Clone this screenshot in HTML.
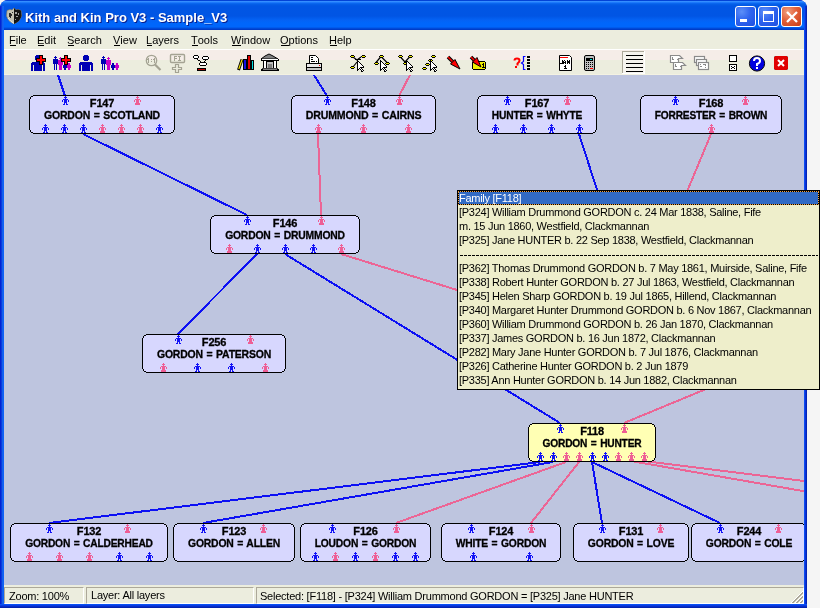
<!DOCTYPE html>
<html><head><meta charset="utf-8">
<style>
*{margin:0;padding:0;box-sizing:border-box}
html,body{width:820px;height:608px;overflow:hidden;background:#f5f5f5;font-family:"Liberation Sans",sans-serif}
.gs{will-change:transform}
.abs{position:absolute}
#win{position:absolute;left:0;top:0;width:807px;height:608px;background:#0831d9;border-radius:8px 8px 0 0;overflow:hidden}
#title{position:absolute;left:0;top:0;width:807px;height:30px;
 background:linear-gradient(#0343d6 0px,#0343d6 1px,#3d95ff 1px,#2a86ff 2px,#0f6cf5 3px,#0560e8 4px,#0156e4 6px,#0155e4 16px,#0462f4 20px,#0066fb 23px,#0066fb 27px,#0050e0 28px,#0035c0 30px)}
#ttext{position:absolute;left:25px;top:10px;color:#fff;font:bold 13px "Liberation Sans",sans-serif;text-shadow:1px 1px 0 #0a1e8c;white-space:nowrap;letter-spacing:0px}
.tb{position:absolute;top:6px;width:21px;height:21px;border:1px solid #fff;border-radius:3px;
 background:radial-gradient(circle at 30% 25%,#5c8ff8 0%,#2f64ef 45%,#1d4fe0 100%)}
#leftb{position:absolute;left:0;top:6px;width:4px;height:602px;background:linear-gradient(90deg,#0019cf,#0831d9 30%,#166aee 70%,#0a5bfe)}
#rightb{position:absolute;left:804px;top:6px;width:3px;height:602px;background:linear-gradient(90deg,#0a5bfe,#0831d9,#001ea0)}
#botb{position:absolute;left:0;top:604px;width:807px;height:4px;background:linear-gradient(#0a5bfe,#0831d9,#001ea0)}
#menu{position:absolute;left:4px;top:30px;width:800px;height:19px;background:#ecedde}
.mi{position:absolute;top:4px;font:11px "Liberation Sans",sans-serif;color:#000;white-space:nowrap}
.mi u{text-decoration:none;position:relative}
.mi u:after{content:"";position:absolute;left:1px;right:0;top:11px;height:1px;background:#000}
#menuline{position:absolute;left:4px;top:49px;width:800px;height:1px;background:#fff}
#toolbar{position:absolute;left:4px;top:50px;width:800px;height:25px;background:linear-gradient(#f5ede8 0px,#f5ede8 10px,#ecedde 10px,#ecedde 24px,#f4f2e2 24px)}
#canvas{position:absolute;left:4px;top:75px;width:800px;height:510px;background:#bec5df;overflow:hidden}
#status{position:absolute;left:4px;top:585px;width:800px;height:19px;background:#ecedde}
.sp{position:absolute;top:2px;height:17px;border-top:1px solid #aca899;border-left:1px solid #aca899;border-right:1px solid #fff;border-bottom:1px solid #fff}
.st{position:absolute;top:5px;font:11px "Liberation Sans",sans-serif;color:#000;white-space:nowrap;letter-spacing:-0.23px}
#popup{position:absolute;left:457px;top:190px;width:363px;height:200px;background:#eeeecb;border:1px solid #000}
#phead{position:absolute;left:0px;top:0px;width:361px;height:14px;background:#000}
#phin{position:absolute;left:0;top:0;width:361px;height:14px;background:#316ac5;background-clip:padding-box;border:1px dotted #f0a040}
.pt{position:absolute;left:1px;height:14px;font:11px "Liberation Sans",sans-serif;color:#000;white-space:nowrap;letter-spacing:-0.27px;line-height:14px}
.dash{position:absolute;left:2px;width:358px;height:1px;background:repeating-linear-gradient(90deg,#000 0,#000 3px,transparent 3px,transparent 4px)}
svg text.bt{font:bold 11px "Liberation Sans",sans-serif;text-anchor:middle;letter-spacing:-0.2px;word-spacing:1px;fill:#000;stroke:#000;stroke-width:0.3px}
</style></head><body>
<div id="win">
<div id="title">
 <svg class="abs" style="left:6px;top:8px" width="16" height="16" viewBox="0 0 16 16">
  <path d="M1 2.5 L4 1.5 L6 2 L8 0 L10 2 L12 1.5 L15 2.5 L15.5 8 Q14.5 13 8 16 Q1.5 13 0.5 8 Z" fill="#c4c2b4" stroke="#8a7a50" stroke-width="0.6"/>
  <path d="M8 0 L10 2 L12 1.5 L15 2.5 L15.5 8 Q14.5 13 8 16 Z" fill="#141414"/>
  <path d="M3 5h2v1h1v2h-1v1h-2zM4 9h1v1h-1zM6 4h1v1h-1z" fill="#2a2a2a"/>
  <path d="M9 4h2v2h-2zM12 5h1v2h-1zM10 8h2v1h-2zM9 11h1v1h-1z" fill="#a0a0a0"/>
  <path d="M2 10q2 3 6 5.5" stroke="#e8e8e0" stroke-width="1" fill="none"/>
 </svg>
 <div id="ttext" class="gs">Kith and Kin Pro V3 - Sample_V3</div>
 <div class="tb" style="left:735px"><div class="abs" style="left:4px;top:12px;width:7px;height:3px;background:#fff"></div></div>
 <div class="tb" style="left:758px"><div class="abs" style="left:4px;top:4px;width:11px;height:11px;border:1px solid #fff;border-top-width:3px"></div></div>
 <div class="tb" style="left:781px;background:radial-gradient(circle at 30% 25%,#f0a080 0%,#e2603a 45%,#c83c14 100%)">
  <svg class="abs" style="left:4px;top:4px" width="12" height="12"><path d="M1 1L11 11M11 1L1 11" stroke="#fff" stroke-width="2.3"/></svg></div>
</div>
<div id="leftb"></div><div id="rightb"></div><div id="botb"></div>
<div id="menu" class="gs">
 <div class="mi" style="left:5px"><u>F</u>ile</div>
 <div class="mi" style="left:33px"><u>E</u>dit</div>
 <div class="mi" style="left:63px"><u>S</u>earch</div>
 <div class="mi" style="left:109px"><u>V</u>iew</div>
 <div class="mi" style="left:142px"><u>L</u>ayers</div>
 <div class="mi" style="left:187px"><u>T</u>ools</div>
 <div class="mi" style="left:227px"><u>W</u>indow</div>
 <div class="mi" style="left:276px"><u>O</u>ptions</div>
 <div class="mi" style="left:325px"><u>H</u>elp</div>
</div>
<div id="menuline"></div>
<div id="toolbar"></div>
<div id="canvas"></div>
<div id="status" class="gs">
 <div class="sp" style="left:0px;width:80px"></div>
 <div class="sp" style="left:82px;width:168px"></div>
 <div class="sp" style="left:252px;width:548px"></div>
 <div class="st" style="left:5px">Zoom: 100%</div>
 <div class="st" style="left:87px;top:4px">Layer: All layers</div>
 <div class="st" style="left:256px">Selected: [F118] - [P324] William Drummond GORDON = [P325] Jane HUNTER</div>
</div>
</div>
<svg class="abs gs" style="left:0;top:0" width="820" height="608" shape-rendering="crispEdges">
<defs><clipPath id="cc"><rect x="4" y="75" width="800" height="510"/></clipPath></defs>
<g clip-path="url(#cc)">
<line x1="58" y1="75" x2="65" y2="96" stroke="#0c10f4" stroke-width="2" shape-rendering="crispEdges"/>
<line x1="314" y1="75" x2="327" y2="96" stroke="#0c10f4" stroke-width="2" shape-rendering="crispEdges"/>
<line x1="410" y1="75" x2="399" y2="96" stroke="#ec6595" stroke-width="2" shape-rendering="crispEdges"/>
<line x1="83" y1="134" x2="247" y2="215" stroke="#0c10f4" stroke-width="2" shape-rendering="crispEdges"/>
<line x1="318" y1="134" x2="321" y2="215" stroke="#ec6595" stroke-width="2" shape-rendering="crispEdges"/>
<line x1="579" y1="134" x2="610" y2="230" stroke="#0c10f4" stroke-width="2" shape-rendering="crispEdges"/>
<line x1="711" y1="134" x2="671" y2="230" stroke="#ec6595" stroke-width="2" shape-rendering="crispEdges"/>
<line x1="257" y1="254" x2="178" y2="334" stroke="#0c10f4" stroke-width="2" shape-rendering="crispEdges"/>
<line x1="285" y1="254" x2="560" y2="423" stroke="#0c10f4" stroke-width="2" shape-rendering="crispEdges"/>
<line x1="341" y1="254" x2="470" y2="294" stroke="#ec6595" stroke-width="2" shape-rendering="crispEdges"/>
<line x1="740" y1="375" x2="624" y2="423" stroke="#ec6595" stroke-width="2" shape-rendering="crispEdges"/>
<line x1="540" y1="462" x2="49" y2="523" stroke="#0c10f4" stroke-width="2" shape-rendering="crispEdges"/>
<line x1="553" y1="462" x2="203" y2="523" stroke="#0c10f4" stroke-width="2" shape-rendering="crispEdges"/>
<line x1="566" y1="462" x2="396" y2="523" stroke="#ec6595" stroke-width="2" shape-rendering="crispEdges"/>
<line x1="579" y1="462" x2="531" y2="523" stroke="#ec6595" stroke-width="2" shape-rendering="crispEdges"/>
<line x1="592" y1="462" x2="602" y2="523" stroke="#0c10f4" stroke-width="2" shape-rendering="crispEdges"/>
<line x1="592" y1="462" x2="720" y2="523" stroke="#0c10f4" stroke-width="2" shape-rendering="crispEdges"/>
<line x1="631" y1="461" x2="820" y2="494" stroke="#ec6595" stroke-width="2" shape-rendering="crispEdges"/>
<line x1="644" y1="461" x2="820" y2="483" stroke="#ec6595" stroke-width="2" shape-rendering="crispEdges"/>
<rect x="33" y="96" width="138" height="1" fill="#d7d7fe"/>
<rect x="31" y="97" width="142" height="2" fill="#d7d7fe"/>
<rect x="30" y="99" width="144" height="31" fill="#d7d7fe"/>
<rect x="31" y="130" width="142" height="2" fill="#d7d7fe"/>
<rect x="33" y="132" width="138" height="1" fill="#d7d7fe"/>
<rect x="33" y="95" width="138" height="1" fill="#000"/>
<rect x="33" y="133" width="138" height="1" fill="#000"/>
<rect x="29" y="99" width="1" height="31" fill="#000"/>
<rect x="174" y="99" width="1" height="31" fill="#000"/>
<rect x="31" y="96" width="2" height="1" fill="#000"/>
<rect x="171" y="96" width="2" height="1" fill="#000"/>
<rect x="31" y="132" width="2" height="1" fill="#000"/>
<rect x="171" y="132" width="2" height="1" fill="#000"/>
<rect x="30" y="97" width="1" height="2" fill="#000"/>
<rect x="173" y="97" width="1" height="2" fill="#000"/>
<rect x="30" y="130" width="1" height="2" fill="#000"/>
<rect x="173" y="130" width="1" height="2" fill="#000"/>
<text x="102.0" y="107" class="bt">F147</text>
<text x="102.0" y="119" class="bt" textLength="116" lengthAdjust="spacingAndGlyphs">GORDON = SCOTLAND</text>
<path transform="translate(62 96)" d="M3 0h1v1h-1zM2 1h3v1h-3zM3 2h1v1h-1zM1 3h5v1h-5zM0 4h1v1h-1zM2 4h3v1h-3zM6 4h1v1h-1zM0 5h1v1h-1zM2 5h3v1h-3zM6 5h1v1h-1zM2 6h3v1h-3zM2 7h1v1h-1zM4 7h1v1h-1zM1 8h2v1h-2zM4 8h2v1h-2z" fill="#1212f5"/>
<path transform="translate(134 96)" d="M3 0h1v1h-1zM2 1h3v1h-3zM3 2h1v1h-1zM1 3h5v1h-5zM0 4h1v1h-1zM2 4h3v1h-3zM6 4h1v1h-1zM0 5h1v1h-1zM2 5h3v1h-3zM6 5h1v1h-1zM2 6h3v1h-3zM1 7h5v1h-5zM1 8h5v1h-5z" fill="#ee5e95"/>
<path transform="translate(42 124)" d="M3 0h1v1h-1zM2 1h3v1h-3zM3 2h1v1h-1zM1 3h5v1h-5zM0 4h1v1h-1zM2 4h3v1h-3zM6 4h1v1h-1zM0 5h1v1h-1zM2 5h3v1h-3zM6 5h1v1h-1zM2 6h3v1h-3zM2 7h1v1h-1zM4 7h1v1h-1zM1 8h2v1h-2zM4 8h2v1h-2z" fill="#1212f5"/>
<path transform="translate(61 124)" d="M3 0h1v1h-1zM2 1h3v1h-3zM3 2h1v1h-1zM1 3h5v1h-5zM0 4h1v1h-1zM2 4h3v1h-3zM6 4h1v1h-1zM0 5h1v1h-1zM2 5h3v1h-3zM6 5h1v1h-1zM2 6h3v1h-3zM2 7h1v1h-1zM4 7h1v1h-1zM1 8h2v1h-2zM4 8h2v1h-2z" fill="#1212f5"/>
<path transform="translate(80 124)" d="M3 0h1v1h-1zM2 1h3v1h-3zM3 2h1v1h-1zM1 3h5v1h-5zM0 4h1v1h-1zM2 4h3v1h-3zM6 4h1v1h-1zM0 5h1v1h-1zM2 5h3v1h-3zM6 5h1v1h-1zM2 6h3v1h-3zM2 7h1v1h-1zM4 7h1v1h-1zM1 8h2v1h-2zM4 8h2v1h-2z" fill="#1212f5"/>
<path transform="translate(99 124)" d="M3 0h1v1h-1zM2 1h3v1h-3zM3 2h1v1h-1zM1 3h5v1h-5zM0 4h1v1h-1zM2 4h3v1h-3zM6 4h1v1h-1zM0 5h1v1h-1zM2 5h3v1h-3zM6 5h1v1h-1zM2 6h3v1h-3zM1 7h5v1h-5zM1 8h5v1h-5z" fill="#ee5e95"/>
<path transform="translate(118 124)" d="M3 0h1v1h-1zM2 1h3v1h-3zM3 2h1v1h-1zM1 3h5v1h-5zM0 4h1v1h-1zM2 4h3v1h-3zM6 4h1v1h-1zM0 5h1v1h-1zM2 5h3v1h-3zM6 5h1v1h-1zM2 6h3v1h-3zM1 7h5v1h-5zM1 8h5v1h-5z" fill="#ee5e95"/>
<path transform="translate(137 124)" d="M3 0h1v1h-1zM2 1h3v1h-3zM3 2h1v1h-1zM1 3h5v1h-5zM0 4h1v1h-1zM2 4h3v1h-3zM6 4h1v1h-1zM0 5h1v1h-1zM2 5h3v1h-3zM6 5h1v1h-1zM2 6h3v1h-3zM1 7h5v1h-5zM1 8h5v1h-5z" fill="#ee5e95"/>
<path transform="translate(156 124)" d="M3 0h1v1h-1zM2 1h3v1h-3zM3 2h1v1h-1zM1 3h5v1h-5zM0 4h1v1h-1zM2 4h3v1h-3zM6 4h1v1h-1zM0 5h1v1h-1zM2 5h3v1h-3zM6 5h1v1h-1zM2 6h3v1h-3zM2 7h1v1h-1zM4 7h1v1h-1zM1 8h2v1h-2zM4 8h2v1h-2z" fill="#1212f5"/>
<rect x="295" y="96" width="137" height="1" fill="#d7d7fe"/>
<rect x="293" y="97" width="141" height="2" fill="#d7d7fe"/>
<rect x="292" y="99" width="143" height="31" fill="#d7d7fe"/>
<rect x="293" y="130" width="141" height="2" fill="#d7d7fe"/>
<rect x="295" y="132" width="137" height="1" fill="#d7d7fe"/>
<rect x="295" y="95" width="137" height="1" fill="#000"/>
<rect x="295" y="133" width="137" height="1" fill="#000"/>
<rect x="291" y="99" width="1" height="31" fill="#000"/>
<rect x="435" y="99" width="1" height="31" fill="#000"/>
<rect x="293" y="96" width="2" height="1" fill="#000"/>
<rect x="432" y="96" width="2" height="1" fill="#000"/>
<rect x="293" y="132" width="2" height="1" fill="#000"/>
<rect x="432" y="132" width="2" height="1" fill="#000"/>
<rect x="292" y="97" width="1" height="2" fill="#000"/>
<rect x="434" y="97" width="1" height="2" fill="#000"/>
<rect x="292" y="130" width="1" height="2" fill="#000"/>
<rect x="434" y="130" width="1" height="2" fill="#000"/>
<text x="363.5" y="107" class="bt">F148</text>
<text x="363.5" y="119" class="bt" textLength="115.5" lengthAdjust="spacingAndGlyphs">DRUMMOND = CAIRNS</text>
<path transform="translate(324 96)" d="M3 0h1v1h-1zM2 1h3v1h-3zM3 2h1v1h-1zM1 3h5v1h-5zM0 4h1v1h-1zM2 4h3v1h-3zM6 4h1v1h-1zM0 5h1v1h-1zM2 5h3v1h-3zM6 5h1v1h-1zM2 6h3v1h-3zM2 7h1v1h-1zM4 7h1v1h-1zM1 8h2v1h-2zM4 8h2v1h-2z" fill="#1212f5"/>
<path transform="translate(396 96)" d="M3 0h1v1h-1zM2 1h3v1h-3zM3 2h1v1h-1zM1 3h5v1h-5zM0 4h1v1h-1zM2 4h3v1h-3zM6 4h1v1h-1zM0 5h1v1h-1zM2 5h3v1h-3zM6 5h1v1h-1zM2 6h3v1h-3zM1 7h5v1h-5zM1 8h5v1h-5z" fill="#ee5e95"/>
<path transform="translate(315 124)" d="M3 0h1v1h-1zM2 1h3v1h-3zM3 2h1v1h-1zM1 3h5v1h-5zM0 4h1v1h-1zM2 4h3v1h-3zM6 4h1v1h-1zM0 5h1v1h-1zM2 5h3v1h-3zM6 5h1v1h-1zM2 6h3v1h-3zM1 7h5v1h-5zM1 8h5v1h-5z" fill="#ee5e95"/>
<path transform="translate(360 124)" d="M3 0h1v1h-1zM2 1h3v1h-3zM3 2h1v1h-1zM1 3h5v1h-5zM0 4h1v1h-1zM2 4h3v1h-3zM6 4h1v1h-1zM0 5h1v1h-1zM2 5h3v1h-3zM6 5h1v1h-1zM2 6h3v1h-3zM1 7h5v1h-5zM1 8h5v1h-5z" fill="#ee5e95"/>
<path transform="translate(405 124)" d="M3 0h1v1h-1zM2 1h3v1h-3zM3 2h1v1h-1zM1 3h5v1h-5zM0 4h1v1h-1zM2 4h3v1h-3zM6 4h1v1h-1zM0 5h1v1h-1zM2 5h3v1h-3zM6 5h1v1h-1zM2 6h3v1h-3zM1 7h5v1h-5zM1 8h5v1h-5z" fill="#ee5e95"/>
<rect x="481" y="96" width="112" height="1" fill="#d7d7fe"/>
<rect x="479" y="97" width="116" height="2" fill="#d7d7fe"/>
<rect x="478" y="99" width="118" height="31" fill="#d7d7fe"/>
<rect x="479" y="130" width="116" height="2" fill="#d7d7fe"/>
<rect x="481" y="132" width="112" height="1" fill="#d7d7fe"/>
<rect x="481" y="95" width="112" height="1" fill="#000"/>
<rect x="481" y="133" width="112" height="1" fill="#000"/>
<rect x="477" y="99" width="1" height="31" fill="#000"/>
<rect x="596" y="99" width="1" height="31" fill="#000"/>
<rect x="479" y="96" width="2" height="1" fill="#000"/>
<rect x="593" y="96" width="2" height="1" fill="#000"/>
<rect x="479" y="132" width="2" height="1" fill="#000"/>
<rect x="593" y="132" width="2" height="1" fill="#000"/>
<rect x="478" y="97" width="1" height="2" fill="#000"/>
<rect x="595" y="97" width="1" height="2" fill="#000"/>
<rect x="478" y="130" width="1" height="2" fill="#000"/>
<rect x="595" y="130" width="1" height="2" fill="#000"/>
<text x="537.0" y="107" class="bt">F167</text>
<text x="537.0" y="119" class="bt" textLength="90.4" lengthAdjust="spacingAndGlyphs">HUNTER = WHYTE</text>
<path transform="translate(504 96)" d="M3 0h1v1h-1zM2 1h3v1h-3zM3 2h1v1h-1zM1 3h5v1h-5zM0 4h1v1h-1zM2 4h3v1h-3zM6 4h1v1h-1zM0 5h1v1h-1zM2 5h3v1h-3zM6 5h1v1h-1zM2 6h3v1h-3zM2 7h1v1h-1zM4 7h1v1h-1zM1 8h2v1h-2zM4 8h2v1h-2z" fill="#1212f5"/>
<path transform="translate(564 96)" d="M3 0h1v1h-1zM2 1h3v1h-3zM3 2h1v1h-1zM1 3h5v1h-5zM0 4h1v1h-1zM2 4h3v1h-3zM6 4h1v1h-1zM0 5h1v1h-1zM2 5h3v1h-3zM6 5h1v1h-1zM2 6h3v1h-3zM1 7h5v1h-5zM1 8h5v1h-5z" fill="#ee5e95"/>
<path transform="translate(492 124)" d="M3 0h1v1h-1zM2 1h3v1h-3zM3 2h1v1h-1zM1 3h5v1h-5zM0 4h1v1h-1zM2 4h3v1h-3zM6 4h1v1h-1zM0 5h1v1h-1zM2 5h3v1h-3zM6 5h1v1h-1zM2 6h3v1h-3zM2 7h1v1h-1zM4 7h1v1h-1zM1 8h2v1h-2zM4 8h2v1h-2z" fill="#1212f5"/>
<path transform="translate(520 124)" d="M3 0h1v1h-1zM2 1h3v1h-3zM3 2h1v1h-1zM1 3h5v1h-5zM0 4h1v1h-1zM2 4h3v1h-3zM6 4h1v1h-1zM0 5h1v1h-1zM2 5h3v1h-3zM6 5h1v1h-1zM2 6h3v1h-3zM2 7h1v1h-1zM4 7h1v1h-1zM1 8h2v1h-2zM4 8h2v1h-2z" fill="#1212f5"/>
<path transform="translate(548 124)" d="M3 0h1v1h-1zM2 1h3v1h-3zM3 2h1v1h-1zM1 3h5v1h-5zM0 4h1v1h-1zM2 4h3v1h-3zM6 4h1v1h-1zM0 5h1v1h-1zM2 5h3v1h-3zM6 5h1v1h-1zM2 6h3v1h-3zM2 7h1v1h-1zM4 7h1v1h-1zM1 8h2v1h-2zM4 8h2v1h-2z" fill="#1212f5"/>
<path transform="translate(576 124)" d="M3 0h1v1h-1zM2 1h3v1h-3zM3 2h1v1h-1zM1 3h5v1h-5zM0 4h1v1h-1zM2 4h3v1h-3zM6 4h1v1h-1zM0 5h1v1h-1zM2 5h3v1h-3zM6 5h1v1h-1zM2 6h3v1h-3zM2 7h1v1h-1zM4 7h1v1h-1zM1 8h2v1h-2zM4 8h2v1h-2z" fill="#1212f5"/>
<rect x="644" y="96" width="134" height="1" fill="#d7d7fe"/>
<rect x="642" y="97" width="138" height="2" fill="#d7d7fe"/>
<rect x="641" y="99" width="140" height="31" fill="#d7d7fe"/>
<rect x="642" y="130" width="138" height="2" fill="#d7d7fe"/>
<rect x="644" y="132" width="134" height="1" fill="#d7d7fe"/>
<rect x="644" y="95" width="134" height="1" fill="#000"/>
<rect x="644" y="133" width="134" height="1" fill="#000"/>
<rect x="640" y="99" width="1" height="31" fill="#000"/>
<rect x="781" y="99" width="1" height="31" fill="#000"/>
<rect x="642" y="96" width="2" height="1" fill="#000"/>
<rect x="778" y="96" width="2" height="1" fill="#000"/>
<rect x="642" y="132" width="2" height="1" fill="#000"/>
<rect x="778" y="132" width="2" height="1" fill="#000"/>
<rect x="641" y="97" width="1" height="2" fill="#000"/>
<rect x="780" y="97" width="1" height="2" fill="#000"/>
<rect x="641" y="130" width="1" height="2" fill="#000"/>
<rect x="780" y="130" width="1" height="2" fill="#000"/>
<text x="711.0" y="107" class="bt">F168</text>
<text x="711.0" y="119" class="bt" textLength="112.5" lengthAdjust="spacingAndGlyphs">FORRESTER = BROWN</text>
<path transform="translate(672 96)" d="M3 0h1v1h-1zM2 1h3v1h-3zM3 2h1v1h-1zM1 3h5v1h-5zM0 4h1v1h-1zM2 4h3v1h-3zM6 4h1v1h-1zM0 5h1v1h-1zM2 5h3v1h-3zM6 5h1v1h-1zM2 6h3v1h-3zM2 7h1v1h-1zM4 7h1v1h-1zM1 8h2v1h-2zM4 8h2v1h-2z" fill="#1212f5"/>
<path transform="translate(742 96)" d="M3 0h1v1h-1zM2 1h3v1h-3zM3 2h1v1h-1zM1 3h5v1h-5zM0 4h1v1h-1zM2 4h3v1h-3zM6 4h1v1h-1zM0 5h1v1h-1zM2 5h3v1h-3zM6 5h1v1h-1zM2 6h3v1h-3zM1 7h5v1h-5zM1 8h5v1h-5z" fill="#ee5e95"/>
<path transform="translate(708 124)" d="M3 0h1v1h-1zM2 1h3v1h-3zM3 2h1v1h-1zM1 3h5v1h-5zM0 4h1v1h-1zM2 4h3v1h-3zM6 4h1v1h-1zM0 5h1v1h-1zM2 5h3v1h-3zM6 5h1v1h-1zM2 6h3v1h-3zM1 7h5v1h-5zM1 8h5v1h-5z" fill="#ee5e95"/>
<rect x="214" y="216" width="142" height="1" fill="#d7d7fe"/>
<rect x="212" y="217" width="146" height="2" fill="#d7d7fe"/>
<rect x="211" y="219" width="148" height="31" fill="#d7d7fe"/>
<rect x="212" y="250" width="146" height="2" fill="#d7d7fe"/>
<rect x="214" y="252" width="142" height="1" fill="#d7d7fe"/>
<rect x="214" y="215" width="142" height="1" fill="#000"/>
<rect x="214" y="253" width="142" height="1" fill="#000"/>
<rect x="210" y="219" width="1" height="31" fill="#000"/>
<rect x="359" y="219" width="1" height="31" fill="#000"/>
<rect x="212" y="216" width="2" height="1" fill="#000"/>
<rect x="356" y="216" width="2" height="1" fill="#000"/>
<rect x="212" y="252" width="2" height="1" fill="#000"/>
<rect x="356" y="252" width="2" height="1" fill="#000"/>
<rect x="211" y="217" width="1" height="2" fill="#000"/>
<rect x="358" y="217" width="1" height="2" fill="#000"/>
<rect x="211" y="250" width="1" height="2" fill="#000"/>
<rect x="358" y="250" width="1" height="2" fill="#000"/>
<text x="285.0" y="227" class="bt">F146</text>
<text x="285.0" y="239" class="bt" textLength="119.7" lengthAdjust="spacingAndGlyphs">GORDON = DRUMMOND</text>
<path transform="translate(244 216)" d="M3 0h1v1h-1zM2 1h3v1h-3zM3 2h1v1h-1zM1 3h5v1h-5zM0 4h1v1h-1zM2 4h3v1h-3zM6 4h1v1h-1zM0 5h1v1h-1zM2 5h3v1h-3zM6 5h1v1h-1zM2 6h3v1h-3zM2 7h1v1h-1zM4 7h1v1h-1zM1 8h2v1h-2zM4 8h2v1h-2z" fill="#1212f5"/>
<path transform="translate(318 216)" d="M3 0h1v1h-1zM2 1h3v1h-3zM3 2h1v1h-1zM1 3h5v1h-5zM0 4h1v1h-1zM2 4h3v1h-3zM6 4h1v1h-1zM0 5h1v1h-1zM2 5h3v1h-3zM6 5h1v1h-1zM2 6h3v1h-3zM1 7h5v1h-5zM1 8h5v1h-5z" fill="#ee5e95"/>
<path transform="translate(226 244)" d="M3 0h1v1h-1zM2 1h3v1h-3zM3 2h1v1h-1zM1 3h5v1h-5zM0 4h1v1h-1zM2 4h3v1h-3zM6 4h1v1h-1zM0 5h1v1h-1zM2 5h3v1h-3zM6 5h1v1h-1zM2 6h3v1h-3zM1 7h5v1h-5zM1 8h5v1h-5z" fill="#ee5e95"/>
<path transform="translate(254 244)" d="M3 0h1v1h-1zM2 1h3v1h-3zM3 2h1v1h-1zM1 3h5v1h-5zM0 4h1v1h-1zM2 4h3v1h-3zM6 4h1v1h-1zM0 5h1v1h-1zM2 5h3v1h-3zM6 5h1v1h-1zM2 6h3v1h-3zM2 7h1v1h-1zM4 7h1v1h-1zM1 8h2v1h-2zM4 8h2v1h-2z" fill="#1212f5"/>
<path transform="translate(282 244)" d="M3 0h1v1h-1zM2 1h3v1h-3zM3 2h1v1h-1zM1 3h5v1h-5zM0 4h1v1h-1zM2 4h3v1h-3zM6 4h1v1h-1zM0 5h1v1h-1zM2 5h3v1h-3zM6 5h1v1h-1zM2 6h3v1h-3zM2 7h1v1h-1zM4 7h1v1h-1zM1 8h2v1h-2zM4 8h2v1h-2z" fill="#1212f5"/>
<path transform="translate(310 244)" d="M3 0h1v1h-1zM2 1h3v1h-3zM3 2h1v1h-1zM1 3h5v1h-5zM0 4h1v1h-1zM2 4h3v1h-3zM6 4h1v1h-1zM0 5h1v1h-1zM2 5h3v1h-3zM6 5h1v1h-1zM2 6h3v1h-3zM2 7h1v1h-1zM4 7h1v1h-1zM1 8h2v1h-2zM4 8h2v1h-2z" fill="#1212f5"/>
<path transform="translate(338 244)" d="M3 0h1v1h-1zM2 1h3v1h-3zM3 2h1v1h-1zM1 3h5v1h-5zM0 4h1v1h-1zM2 4h3v1h-3zM6 4h1v1h-1zM0 5h1v1h-1zM2 5h3v1h-3zM6 5h1v1h-1zM2 6h3v1h-3zM1 7h5v1h-5zM1 8h5v1h-5z" fill="#ee5e95"/>
<rect x="146" y="335" width="136" height="1" fill="#d7d7fe"/>
<rect x="144" y="336" width="140" height="2" fill="#d7d7fe"/>
<rect x="143" y="338" width="142" height="31" fill="#d7d7fe"/>
<rect x="144" y="369" width="140" height="2" fill="#d7d7fe"/>
<rect x="146" y="371" width="136" height="1" fill="#d7d7fe"/>
<rect x="146" y="334" width="136" height="1" fill="#000"/>
<rect x="146" y="372" width="136" height="1" fill="#000"/>
<rect x="142" y="338" width="1" height="31" fill="#000"/>
<rect x="285" y="338" width="1" height="31" fill="#000"/>
<rect x="144" y="335" width="2" height="1" fill="#000"/>
<rect x="282" y="335" width="2" height="1" fill="#000"/>
<rect x="144" y="371" width="2" height="1" fill="#000"/>
<rect x="282" y="371" width="2" height="1" fill="#000"/>
<rect x="143" y="336" width="1" height="2" fill="#000"/>
<rect x="284" y="336" width="1" height="2" fill="#000"/>
<rect x="143" y="369" width="1" height="2" fill="#000"/>
<rect x="284" y="369" width="1" height="2" fill="#000"/>
<text x="214.0" y="346" class="bt">F256</text>
<text x="214.0" y="358" class="bt" textLength="114" lengthAdjust="spacingAndGlyphs">GORDON = PATERSON</text>
<path transform="translate(175 335)" d="M3 0h1v1h-1zM2 1h3v1h-3zM3 2h1v1h-1zM1 3h5v1h-5zM0 4h1v1h-1zM2 4h3v1h-3zM6 4h1v1h-1zM0 5h1v1h-1zM2 5h3v1h-3zM6 5h1v1h-1zM2 6h3v1h-3zM2 7h1v1h-1zM4 7h1v1h-1zM1 8h2v1h-2zM4 8h2v1h-2z" fill="#1212f5"/>
<path transform="translate(247 335)" d="M3 0h1v1h-1zM2 1h3v1h-3zM3 2h1v1h-1zM1 3h5v1h-5zM0 4h1v1h-1zM2 4h3v1h-3zM6 4h1v1h-1zM0 5h1v1h-1zM2 5h3v1h-3zM6 5h1v1h-1zM2 6h3v1h-3zM1 7h5v1h-5zM1 8h5v1h-5z" fill="#ee5e95"/>
<path transform="translate(160 363)" d="M3 0h1v1h-1zM2 1h3v1h-3zM3 2h1v1h-1zM1 3h5v1h-5zM0 4h1v1h-1zM2 4h3v1h-3zM6 4h1v1h-1zM0 5h1v1h-1zM2 5h3v1h-3zM6 5h1v1h-1zM2 6h3v1h-3zM1 7h5v1h-5zM1 8h5v1h-5z" fill="#ee5e95"/>
<path transform="translate(194 363)" d="M3 0h1v1h-1zM2 1h3v1h-3zM3 2h1v1h-1zM1 3h5v1h-5zM0 4h1v1h-1zM2 4h3v1h-3zM6 4h1v1h-1zM0 5h1v1h-1zM2 5h3v1h-3zM6 5h1v1h-1zM2 6h3v1h-3zM2 7h1v1h-1zM4 7h1v1h-1zM1 8h2v1h-2zM4 8h2v1h-2z" fill="#1212f5"/>
<path transform="translate(228 363)" d="M3 0h1v1h-1zM2 1h3v1h-3zM3 2h1v1h-1zM1 3h5v1h-5zM0 4h1v1h-1zM2 4h3v1h-3zM6 4h1v1h-1zM0 5h1v1h-1zM2 5h3v1h-3zM6 5h1v1h-1zM2 6h3v1h-3zM2 7h1v1h-1zM4 7h1v1h-1zM1 8h2v1h-2zM4 8h2v1h-2z" fill="#1212f5"/>
<path transform="translate(262 363)" d="M3 0h1v1h-1zM2 1h3v1h-3zM3 2h1v1h-1zM1 3h5v1h-5zM0 4h1v1h-1zM2 4h3v1h-3zM6 4h1v1h-1zM0 5h1v1h-1zM2 5h3v1h-3zM6 5h1v1h-1zM2 6h3v1h-3zM1 7h5v1h-5zM1 8h5v1h-5z" fill="#ee5e95"/>
<rect x="532" y="424" width="120" height="1" fill="#ffffb4"/>
<rect x="530" y="425" width="124" height="2" fill="#ffffb4"/>
<rect x="529" y="427" width="126" height="31" fill="#ffffb4"/>
<rect x="530" y="458" width="124" height="2" fill="#ffffb4"/>
<rect x="532" y="460" width="120" height="1" fill="#ffffb4"/>
<rect x="532" y="423" width="120" height="1" fill="#000"/>
<rect x="532" y="461" width="120" height="1" fill="#000"/>
<rect x="528" y="427" width="1" height="31" fill="#000"/>
<rect x="655" y="427" width="1" height="31" fill="#000"/>
<rect x="530" y="424" width="2" height="1" fill="#000"/>
<rect x="652" y="424" width="2" height="1" fill="#000"/>
<rect x="530" y="460" width="2" height="1" fill="#000"/>
<rect x="652" y="460" width="2" height="1" fill="#000"/>
<rect x="529" y="425" width="1" height="2" fill="#000"/>
<rect x="654" y="425" width="1" height="2" fill="#000"/>
<rect x="529" y="458" width="1" height="2" fill="#000"/>
<rect x="654" y="458" width="1" height="2" fill="#000"/>
<text x="592.0" y="435" class="bt">F118</text>
<text x="592.0" y="447" class="bt" textLength="98.8" lengthAdjust="spacingAndGlyphs">GORDON = HUNTER</text>
<path transform="translate(557 424)" d="M3 0h1v1h-1zM2 1h3v1h-3zM3 2h1v1h-1zM1 3h5v1h-5zM0 4h1v1h-1zM2 4h3v1h-3zM6 4h1v1h-1zM0 5h1v1h-1zM2 5h3v1h-3zM6 5h1v1h-1zM2 6h3v1h-3zM2 7h1v1h-1zM4 7h1v1h-1zM1 8h2v1h-2zM4 8h2v1h-2z" fill="#1212f5"/>
<path transform="translate(621 424)" d="M3 0h1v1h-1zM2 1h3v1h-3zM3 2h1v1h-1zM1 3h5v1h-5zM0 4h1v1h-1zM2 4h3v1h-3zM6 4h1v1h-1zM0 5h1v1h-1zM2 5h3v1h-3zM6 5h1v1h-1zM2 6h3v1h-3zM1 7h5v1h-5zM1 8h5v1h-5z" fill="#ee5e95"/>
<path transform="translate(537 452)" d="M3 0h1v1h-1zM2 1h3v1h-3zM3 2h1v1h-1zM1 3h5v1h-5zM0 4h1v1h-1zM2 4h3v1h-3zM6 4h1v1h-1zM0 5h1v1h-1zM2 5h3v1h-3zM6 5h1v1h-1zM2 6h3v1h-3zM2 7h1v1h-1zM4 7h1v1h-1zM1 8h2v1h-2zM4 8h2v1h-2z" fill="#1212f5"/>
<path transform="translate(550 452)" d="M3 0h1v1h-1zM2 1h3v1h-3zM3 2h1v1h-1zM1 3h5v1h-5zM0 4h1v1h-1zM2 4h3v1h-3zM6 4h1v1h-1zM0 5h1v1h-1zM2 5h3v1h-3zM6 5h1v1h-1zM2 6h3v1h-3zM2 7h1v1h-1zM4 7h1v1h-1zM1 8h2v1h-2zM4 8h2v1h-2z" fill="#1212f5"/>
<path transform="translate(563 452)" d="M3 0h1v1h-1zM2 1h3v1h-3zM3 2h1v1h-1zM1 3h5v1h-5zM0 4h1v1h-1zM2 4h3v1h-3zM6 4h1v1h-1zM0 5h1v1h-1zM2 5h3v1h-3zM6 5h1v1h-1zM2 6h3v1h-3zM1 7h5v1h-5zM1 8h5v1h-5z" fill="#ee5e95"/>
<path transform="translate(576 452)" d="M3 0h1v1h-1zM2 1h3v1h-3zM3 2h1v1h-1zM1 3h5v1h-5zM0 4h1v1h-1zM2 4h3v1h-3zM6 4h1v1h-1zM0 5h1v1h-1zM2 5h3v1h-3zM6 5h1v1h-1zM2 6h3v1h-3zM1 7h5v1h-5zM1 8h5v1h-5z" fill="#ee5e95"/>
<path transform="translate(589 452)" d="M3 0h1v1h-1zM2 1h3v1h-3zM3 2h1v1h-1zM1 3h5v1h-5zM0 4h1v1h-1zM2 4h3v1h-3zM6 4h1v1h-1zM0 5h1v1h-1zM2 5h3v1h-3zM6 5h1v1h-1zM2 6h3v1h-3zM2 7h1v1h-1zM4 7h1v1h-1zM1 8h2v1h-2zM4 8h2v1h-2z" fill="#1212f5"/>
<path transform="translate(602 452)" d="M3 0h1v1h-1zM2 1h3v1h-3zM3 2h1v1h-1zM1 3h5v1h-5zM0 4h1v1h-1zM2 4h3v1h-3zM6 4h1v1h-1zM0 5h1v1h-1zM2 5h3v1h-3zM6 5h1v1h-1zM2 6h3v1h-3zM2 7h1v1h-1zM4 7h1v1h-1zM1 8h2v1h-2zM4 8h2v1h-2z" fill="#1212f5"/>
<path transform="translate(615 452)" d="M3 0h1v1h-1zM2 1h3v1h-3zM3 2h1v1h-1zM1 3h5v1h-5zM0 4h1v1h-1zM2 4h3v1h-3zM6 4h1v1h-1zM0 5h1v1h-1zM2 5h3v1h-3zM6 5h1v1h-1zM2 6h3v1h-3zM1 7h5v1h-5zM1 8h5v1h-5z" fill="#ee5e95"/>
<path transform="translate(628 452)" d="M3 0h1v1h-1zM2 1h3v1h-3zM3 2h1v1h-1zM1 3h5v1h-5zM0 4h1v1h-1zM2 4h3v1h-3zM6 4h1v1h-1zM0 5h1v1h-1zM2 5h3v1h-3zM6 5h1v1h-1zM2 6h3v1h-3zM1 7h5v1h-5zM1 8h5v1h-5z" fill="#ee5e95"/>
<path transform="translate(641 452)" d="M3 0h1v1h-1zM2 1h3v1h-3zM3 2h1v1h-1zM1 3h5v1h-5zM0 4h1v1h-1zM2 4h3v1h-3zM6 4h1v1h-1zM0 5h1v1h-1zM2 5h3v1h-3zM6 5h1v1h-1zM2 6h3v1h-3zM1 7h5v1h-5zM1 8h5v1h-5z" fill="#ee5e95"/>
<rect x="14" y="524" width="150" height="1" fill="#d7d7fe"/>
<rect x="12" y="525" width="154" height="2" fill="#d7d7fe"/>
<rect x="11" y="527" width="156" height="31" fill="#d7d7fe"/>
<rect x="12" y="558" width="154" height="2" fill="#d7d7fe"/>
<rect x="14" y="560" width="150" height="1" fill="#d7d7fe"/>
<rect x="14" y="523" width="150" height="1" fill="#000"/>
<rect x="14" y="561" width="150" height="1" fill="#000"/>
<rect x="10" y="527" width="1" height="31" fill="#000"/>
<rect x="167" y="527" width="1" height="31" fill="#000"/>
<rect x="12" y="524" width="2" height="1" fill="#000"/>
<rect x="164" y="524" width="2" height="1" fill="#000"/>
<rect x="12" y="560" width="2" height="1" fill="#000"/>
<rect x="164" y="560" width="2" height="1" fill="#000"/>
<rect x="11" y="525" width="1" height="2" fill="#000"/>
<rect x="166" y="525" width="1" height="2" fill="#000"/>
<rect x="11" y="558" width="1" height="2" fill="#000"/>
<rect x="166" y="558" width="1" height="2" fill="#000"/>
<text x="89.0" y="535" class="bt">F132</text>
<text x="89.0" y="547" class="bt" textLength="127.7" lengthAdjust="spacingAndGlyphs">GORDON = CALDERHEAD</text>
<path transform="translate(46 524)" d="M3 0h1v1h-1zM2 1h3v1h-3zM3 2h1v1h-1zM1 3h5v1h-5zM0 4h1v1h-1zM2 4h3v1h-3zM6 4h1v1h-1zM0 5h1v1h-1zM2 5h3v1h-3zM6 5h1v1h-1zM2 6h3v1h-3zM2 7h1v1h-1zM4 7h1v1h-1zM1 8h2v1h-2zM4 8h2v1h-2z" fill="#1212f5"/>
<path transform="translate(124 524)" d="M3 0h1v1h-1zM2 1h3v1h-3zM3 2h1v1h-1zM1 3h5v1h-5zM0 4h1v1h-1zM2 4h3v1h-3zM6 4h1v1h-1zM0 5h1v1h-1zM2 5h3v1h-3zM6 5h1v1h-1zM2 6h3v1h-3zM1 7h5v1h-5zM1 8h5v1h-5z" fill="#ee5e95"/>
<path transform="translate(26 552)" d="M3 0h1v1h-1zM2 1h3v1h-3zM3 2h1v1h-1zM1 3h5v1h-5zM0 4h1v1h-1zM2 4h3v1h-3zM6 4h1v1h-1zM0 5h1v1h-1zM2 5h3v1h-3zM6 5h1v1h-1zM2 6h3v1h-3zM1 7h5v1h-5zM1 8h5v1h-5z" fill="#ee5e95"/>
<path transform="translate(56 552)" d="M3 0h1v1h-1zM2 1h3v1h-3zM3 2h1v1h-1zM1 3h5v1h-5zM0 4h1v1h-1zM2 4h3v1h-3zM6 4h1v1h-1zM0 5h1v1h-1zM2 5h3v1h-3zM6 5h1v1h-1zM2 6h3v1h-3zM1 7h5v1h-5zM1 8h5v1h-5z" fill="#ee5e95"/>
<path transform="translate(86 552)" d="M3 0h1v1h-1zM2 1h3v1h-3zM3 2h1v1h-1zM1 3h5v1h-5zM0 4h1v1h-1zM2 4h3v1h-3zM6 4h1v1h-1zM0 5h1v1h-1zM2 5h3v1h-3zM6 5h1v1h-1zM2 6h3v1h-3zM1 7h5v1h-5zM1 8h5v1h-5z" fill="#ee5e95"/>
<path transform="translate(116 552)" d="M3 0h1v1h-1zM2 1h3v1h-3zM3 2h1v1h-1zM1 3h5v1h-5zM0 4h1v1h-1zM2 4h3v1h-3zM6 4h1v1h-1zM0 5h1v1h-1zM2 5h3v1h-3zM6 5h1v1h-1zM2 6h3v1h-3zM2 7h1v1h-1zM4 7h1v1h-1zM1 8h2v1h-2zM4 8h2v1h-2z" fill="#1212f5"/>
<path transform="translate(146 552)" d="M3 0h1v1h-1zM2 1h3v1h-3zM3 2h1v1h-1zM1 3h5v1h-5zM0 4h1v1h-1zM2 4h3v1h-3zM6 4h1v1h-1zM0 5h1v1h-1zM2 5h3v1h-3zM6 5h1v1h-1zM2 6h3v1h-3zM2 7h1v1h-1zM4 7h1v1h-1zM1 8h2v1h-2zM4 8h2v1h-2z" fill="#1212f5"/>
<rect x="177" y="524" width="114" height="1" fill="#d7d7fe"/>
<rect x="175" y="525" width="118" height="2" fill="#d7d7fe"/>
<rect x="174" y="527" width="120" height="31" fill="#d7d7fe"/>
<rect x="175" y="558" width="118" height="2" fill="#d7d7fe"/>
<rect x="177" y="560" width="114" height="1" fill="#d7d7fe"/>
<rect x="177" y="523" width="114" height="1" fill="#000"/>
<rect x="177" y="561" width="114" height="1" fill="#000"/>
<rect x="173" y="527" width="1" height="31" fill="#000"/>
<rect x="294" y="527" width="1" height="31" fill="#000"/>
<rect x="175" y="524" width="2" height="1" fill="#000"/>
<rect x="291" y="524" width="2" height="1" fill="#000"/>
<rect x="175" y="560" width="2" height="1" fill="#000"/>
<rect x="291" y="560" width="2" height="1" fill="#000"/>
<rect x="174" y="525" width="1" height="2" fill="#000"/>
<rect x="293" y="525" width="1" height="2" fill="#000"/>
<rect x="174" y="558" width="1" height="2" fill="#000"/>
<rect x="293" y="558" width="1" height="2" fill="#000"/>
<text x="234.0" y="535" class="bt">F123</text>
<text x="234.0" y="547" class="bt" textLength="92" lengthAdjust="spacingAndGlyphs">GORDON = ALLEN</text>
<path transform="translate(200 524)" d="M3 0h1v1h-1zM2 1h3v1h-3zM3 2h1v1h-1zM1 3h5v1h-5zM0 4h1v1h-1zM2 4h3v1h-3zM6 4h1v1h-1zM0 5h1v1h-1zM2 5h3v1h-3zM6 5h1v1h-1zM2 6h3v1h-3zM2 7h1v1h-1zM4 7h1v1h-1zM1 8h2v1h-2zM4 8h2v1h-2z" fill="#1212f5"/>
<path transform="translate(260 524)" d="M3 0h1v1h-1zM2 1h3v1h-3zM3 2h1v1h-1zM1 3h5v1h-5zM0 4h1v1h-1zM2 4h3v1h-3zM6 4h1v1h-1zM0 5h1v1h-1zM2 5h3v1h-3zM6 5h1v1h-1zM2 6h3v1h-3zM1 7h5v1h-5zM1 8h5v1h-5z" fill="#ee5e95"/>
<rect x="304" y="524" width="123" height="1" fill="#d7d7fe"/>
<rect x="302" y="525" width="127" height="2" fill="#d7d7fe"/>
<rect x="301" y="527" width="129" height="31" fill="#d7d7fe"/>
<rect x="302" y="558" width="127" height="2" fill="#d7d7fe"/>
<rect x="304" y="560" width="123" height="1" fill="#d7d7fe"/>
<rect x="304" y="523" width="123" height="1" fill="#000"/>
<rect x="304" y="561" width="123" height="1" fill="#000"/>
<rect x="300" y="527" width="1" height="31" fill="#000"/>
<rect x="430" y="527" width="1" height="31" fill="#000"/>
<rect x="302" y="524" width="2" height="1" fill="#000"/>
<rect x="427" y="524" width="2" height="1" fill="#000"/>
<rect x="302" y="560" width="2" height="1" fill="#000"/>
<rect x="427" y="560" width="2" height="1" fill="#000"/>
<rect x="301" y="525" width="1" height="2" fill="#000"/>
<rect x="429" y="525" width="1" height="2" fill="#000"/>
<rect x="301" y="558" width="1" height="2" fill="#000"/>
<rect x="429" y="558" width="1" height="2" fill="#000"/>
<text x="365.5" y="535" class="bt">F126</text>
<text x="365.5" y="547" class="bt" textLength="101.6" lengthAdjust="spacingAndGlyphs">LOUDON = GORDON</text>
<path transform="translate(329 524)" d="M3 0h1v1h-1zM2 1h3v1h-3zM3 2h1v1h-1zM1 3h5v1h-5zM0 4h1v1h-1zM2 4h3v1h-3zM6 4h1v1h-1zM0 5h1v1h-1zM2 5h3v1h-3zM6 5h1v1h-1zM2 6h3v1h-3zM2 7h1v1h-1zM4 7h1v1h-1zM1 8h2v1h-2zM4 8h2v1h-2z" fill="#1212f5"/>
<path transform="translate(393 524)" d="M3 0h1v1h-1zM2 1h3v1h-3zM3 2h1v1h-1zM1 3h5v1h-5zM0 4h1v1h-1zM2 4h3v1h-3zM6 4h1v1h-1zM0 5h1v1h-1zM2 5h3v1h-3zM6 5h1v1h-1zM2 6h3v1h-3zM1 7h5v1h-5zM1 8h5v1h-5z" fill="#ee5e95"/>
<path transform="translate(312 552)" d="M3 0h1v1h-1zM2 1h3v1h-3zM3 2h1v1h-1zM1 3h5v1h-5zM0 4h1v1h-1zM2 4h3v1h-3zM6 4h1v1h-1zM0 5h1v1h-1zM2 5h3v1h-3zM6 5h1v1h-1zM2 6h3v1h-3zM2 7h1v1h-1zM4 7h1v1h-1zM1 8h2v1h-2zM4 8h2v1h-2z" fill="#1212f5"/>
<path transform="translate(332 552)" d="M3 0h1v1h-1zM2 1h3v1h-3zM3 2h1v1h-1zM1 3h5v1h-5zM0 4h1v1h-1zM2 4h3v1h-3zM6 4h1v1h-1zM0 5h1v1h-1zM2 5h3v1h-3zM6 5h1v1h-1zM2 6h3v1h-3zM1 7h5v1h-5zM1 8h5v1h-5z" fill="#ee5e95"/>
<path transform="translate(352 552)" d="M3 0h1v1h-1zM2 1h3v1h-3zM3 2h1v1h-1zM1 3h5v1h-5zM0 4h1v1h-1zM2 4h3v1h-3zM6 4h1v1h-1zM0 5h1v1h-1zM2 5h3v1h-3zM6 5h1v1h-1zM2 6h3v1h-3zM2 7h1v1h-1zM4 7h1v1h-1zM1 8h2v1h-2zM4 8h2v1h-2z" fill="#1212f5"/>
<path transform="translate(372 552)" d="M3 0h1v1h-1zM2 1h3v1h-3zM3 2h1v1h-1zM1 3h5v1h-5zM0 4h1v1h-1zM2 4h3v1h-3zM6 4h1v1h-1zM0 5h1v1h-1zM2 5h3v1h-3zM6 5h1v1h-1zM2 6h3v1h-3zM1 7h5v1h-5zM1 8h5v1h-5z" fill="#ee5e95"/>
<path transform="translate(392 552)" d="M3 0h1v1h-1zM2 1h3v1h-3zM3 2h1v1h-1zM1 3h5v1h-5zM0 4h1v1h-1zM2 4h3v1h-3zM6 4h1v1h-1zM0 5h1v1h-1zM2 5h3v1h-3zM6 5h1v1h-1zM2 6h3v1h-3zM2 7h1v1h-1zM4 7h1v1h-1zM1 8h2v1h-2zM4 8h2v1h-2z" fill="#1212f5"/>
<path transform="translate(412 552)" d="M3 0h1v1h-1zM2 1h3v1h-3zM3 2h1v1h-1zM1 3h5v1h-5zM0 4h1v1h-1zM2 4h3v1h-3zM6 4h1v1h-1zM0 5h1v1h-1zM2 5h3v1h-3zM6 5h1v1h-1zM2 6h3v1h-3zM2 7h1v1h-1zM4 7h1v1h-1zM1 8h2v1h-2zM4 8h2v1h-2z" fill="#1212f5"/>
<rect x="445" y="524" width="112" height="1" fill="#d7d7fe"/>
<rect x="443" y="525" width="116" height="2" fill="#d7d7fe"/>
<rect x="442" y="527" width="118" height="31" fill="#d7d7fe"/>
<rect x="443" y="558" width="116" height="2" fill="#d7d7fe"/>
<rect x="445" y="560" width="112" height="1" fill="#d7d7fe"/>
<rect x="445" y="523" width="112" height="1" fill="#000"/>
<rect x="445" y="561" width="112" height="1" fill="#000"/>
<rect x="441" y="527" width="1" height="31" fill="#000"/>
<rect x="560" y="527" width="1" height="31" fill="#000"/>
<rect x="443" y="524" width="2" height="1" fill="#000"/>
<rect x="557" y="524" width="2" height="1" fill="#000"/>
<rect x="443" y="560" width="2" height="1" fill="#000"/>
<rect x="557" y="560" width="2" height="1" fill="#000"/>
<rect x="442" y="525" width="1" height="2" fill="#000"/>
<rect x="559" y="525" width="1" height="2" fill="#000"/>
<rect x="442" y="558" width="1" height="2" fill="#000"/>
<rect x="559" y="558" width="1" height="2" fill="#000"/>
<text x="501.0" y="535" class="bt">F124</text>
<text x="501.0" y="547" class="bt" textLength="90.5" lengthAdjust="spacingAndGlyphs">WHITE = GORDON</text>
<path transform="translate(468 524)" d="M3 0h1v1h-1zM2 1h3v1h-3zM3 2h1v1h-1zM1 3h5v1h-5zM0 4h1v1h-1zM2 4h3v1h-3zM6 4h1v1h-1zM0 5h1v1h-1zM2 5h3v1h-3zM6 5h1v1h-1zM2 6h3v1h-3zM2 7h1v1h-1zM4 7h1v1h-1zM1 8h2v1h-2zM4 8h2v1h-2z" fill="#1212f5"/>
<path transform="translate(528 524)" d="M3 0h1v1h-1zM2 1h3v1h-3zM3 2h1v1h-1zM1 3h5v1h-5zM0 4h1v1h-1zM2 4h3v1h-3zM6 4h1v1h-1zM0 5h1v1h-1zM2 5h3v1h-3zM6 5h1v1h-1zM2 6h3v1h-3zM1 7h5v1h-5zM1 8h5v1h-5z" fill="#ee5e95"/>
<path transform="translate(470 552)" d="M3 0h1v1h-1zM2 1h3v1h-3zM3 2h1v1h-1zM1 3h5v1h-5zM0 4h1v1h-1zM2 4h3v1h-3zM6 4h1v1h-1zM0 5h1v1h-1zM2 5h3v1h-3zM6 5h1v1h-1zM2 6h3v1h-3zM2 7h1v1h-1zM4 7h1v1h-1zM1 8h2v1h-2zM4 8h2v1h-2z" fill="#1212f5"/>
<path transform="translate(526 552)" d="M3 0h1v1h-1zM2 1h3v1h-3zM3 2h1v1h-1zM1 3h5v1h-5zM0 4h1v1h-1zM2 4h3v1h-3zM6 4h1v1h-1zM0 5h1v1h-1zM2 5h3v1h-3zM6 5h1v1h-1zM2 6h3v1h-3zM2 7h1v1h-1zM4 7h1v1h-1zM1 8h2v1h-2zM4 8h2v1h-2z" fill="#1212f5"/>
<rect x="577" y="524" width="108" height="1" fill="#d7d7fe"/>
<rect x="575" y="525" width="112" height="2" fill="#d7d7fe"/>
<rect x="574" y="527" width="114" height="31" fill="#d7d7fe"/>
<rect x="575" y="558" width="112" height="2" fill="#d7d7fe"/>
<rect x="577" y="560" width="108" height="1" fill="#d7d7fe"/>
<rect x="577" y="523" width="108" height="1" fill="#000"/>
<rect x="577" y="561" width="108" height="1" fill="#000"/>
<rect x="573" y="527" width="1" height="31" fill="#000"/>
<rect x="688" y="527" width="1" height="31" fill="#000"/>
<rect x="575" y="524" width="2" height="1" fill="#000"/>
<rect x="685" y="524" width="2" height="1" fill="#000"/>
<rect x="575" y="560" width="2" height="1" fill="#000"/>
<rect x="685" y="560" width="2" height="1" fill="#000"/>
<rect x="574" y="525" width="1" height="2" fill="#000"/>
<rect x="687" y="525" width="1" height="2" fill="#000"/>
<rect x="574" y="558" width="1" height="2" fill="#000"/>
<rect x="687" y="558" width="1" height="2" fill="#000"/>
<text x="631.0" y="535" class="bt">F131</text>
<text x="631.0" y="547" class="bt" textLength="86.3" lengthAdjust="spacingAndGlyphs">GORDON = LOVE</text>
<path transform="translate(599 524)" d="M3 0h1v1h-1zM2 1h3v1h-3zM3 2h1v1h-1zM1 3h5v1h-5zM0 4h1v1h-1zM2 4h3v1h-3zM6 4h1v1h-1zM0 5h1v1h-1zM2 5h3v1h-3zM6 5h1v1h-1zM2 6h3v1h-3zM2 7h1v1h-1zM4 7h1v1h-1zM1 8h2v1h-2zM4 8h2v1h-2z" fill="#1212f5"/>
<path transform="translate(657 524)" d="M3 0h1v1h-1zM2 1h3v1h-3zM3 2h1v1h-1zM1 3h5v1h-5zM0 4h1v1h-1zM2 4h3v1h-3zM6 4h1v1h-1zM0 5h1v1h-1zM2 5h3v1h-3zM6 5h1v1h-1zM2 6h3v1h-3zM1 7h5v1h-5zM1 8h5v1h-5z" fill="#ee5e95"/>
<rect x="695" y="524" width="108" height="1" fill="#d7d7fe"/>
<rect x="693" y="525" width="112" height="2" fill="#d7d7fe"/>
<rect x="692" y="527" width="114" height="31" fill="#d7d7fe"/>
<rect x="693" y="558" width="112" height="2" fill="#d7d7fe"/>
<rect x="695" y="560" width="108" height="1" fill="#d7d7fe"/>
<rect x="695" y="523" width="108" height="1" fill="#000"/>
<rect x="695" y="561" width="108" height="1" fill="#000"/>
<rect x="691" y="527" width="1" height="31" fill="#000"/>
<rect x="806" y="527" width="1" height="31" fill="#000"/>
<rect x="693" y="524" width="2" height="1" fill="#000"/>
<rect x="803" y="524" width="2" height="1" fill="#000"/>
<rect x="693" y="560" width="2" height="1" fill="#000"/>
<rect x="803" y="560" width="2" height="1" fill="#000"/>
<rect x="692" y="525" width="1" height="2" fill="#000"/>
<rect x="805" y="525" width="1" height="2" fill="#000"/>
<rect x="692" y="558" width="1" height="2" fill="#000"/>
<rect x="805" y="558" width="1" height="2" fill="#000"/>
<text x="749.0" y="535" class="bt">F244</text>
<text x="749.0" y="547" class="bt" textLength="86.3" lengthAdjust="spacingAndGlyphs">GORDON = COLE</text>
<path transform="translate(717 524)" d="M3 0h1v1h-1zM2 1h3v1h-3zM3 2h1v1h-1zM1 3h5v1h-5zM0 4h1v1h-1zM2 4h3v1h-3zM6 4h1v1h-1zM0 5h1v1h-1zM2 5h3v1h-3zM6 5h1v1h-1zM2 6h3v1h-3zM2 7h1v1h-1zM4 7h1v1h-1zM1 8h2v1h-2zM4 8h2v1h-2z" fill="#1212f5"/>
<path transform="translate(775 524)" d="M3 0h1v1h-1zM2 1h3v1h-3zM3 2h1v1h-1zM1 3h5v1h-5zM0 4h1v1h-1zM2 4h3v1h-3zM6 4h1v1h-1zM0 5h1v1h-1zM2 5h3v1h-3zM6 5h1v1h-1zM2 6h3v1h-3zM1 7h5v1h-5zM1 8h5v1h-5z" fill="#ee5e95"/>
</g>
</svg>
<svg class="abs" style="left:0;top:0" width="820" height="608">
<rect x="36" y="55" width="4" height="6" fill="#0000b4"/>
<rect x="35" y="56" width="6" height="4" fill="#0000b4"/>
<rect x="32" y="62" width="12" height="1" fill="#0000b4"/>
<rect x="31" y="63" width="14" height="2" fill="#0000b4"/>
<rect x="31" y="65" width="2" height="6" fill="#0000b4"/>
<rect x="34" y="65" width="8" height="6" fill="#0000b4"/>
<rect x="43" y="65" width="2" height="6" fill="#0000b4"/>
<rect x="36" y="58" width="10" height="4" fill="#000"/>
<rect x="39" y="55" width="4" height="10" fill="#000"/>
<rect x="37" y="59" width="8" height="2" fill="#ff0000"/>
<rect x="40" y="56" width="2" height="8" fill="#ff0000"/>
<rect x="55" y="56" width="1" height="1" fill="#0000b4"/>
<rect x="54" y="57" width="3" height="1" fill="#0000b4"/>
<rect x="55" y="58" width="1" height="1" fill="#0000b4"/>
<rect x="53" y="59" width="5" height="5" fill="#0000b4"/>
<rect x="54" y="64" width="1" height="6" fill="#0000b4"/>
<rect x="56" y="64" width="1" height="6" fill="#0000b4"/>
<rect x="60" y="57" width="1" height="1" fill="#c800c8"/>
<rect x="59" y="58" width="3" height="1" fill="#c800c8"/>
<rect x="60" y="59" width="1" height="1" fill="#c800c8"/>
<rect x="58" y="60" width="5" height="5" fill="#c800c8"/>
<rect x="59" y="65" width="3" height="5" fill="#c800c8"/>
<rect x="64" y="63" width="2" height="2" fill="#0000b4"/>
<rect x="63" y="65" width="4" height="3" fill="#0000b4"/>
<rect x="64" y="68" width="2" height="2" fill="#0000b4"/>
<rect x="68" y="63" width="2" height="2" fill="#c800c8"/>
<rect x="67" y="65" width="4" height="3" fill="#c800c8"/>
<rect x="68" y="68" width="2" height="2" fill="#c800c8"/>
<rect x="61" y="58" width="10" height="4" fill="#000"/>
<rect x="64" y="55" width="4" height="10" fill="#000"/>
<rect x="62" y="59" width="8" height="2" fill="#ff0000"/>
<rect x="65" y="56" width="2" height="8" fill="#ff0000"/>
<rect x="84" y="55" width="4" height="6" fill="#0000b4"/>
<rect x="83" y="56" width="6" height="4" fill="#0000b4"/>
<rect x="80" y="62" width="12" height="1" fill="#0000b4"/>
<rect x="79" y="63" width="14" height="2" fill="#0000b4"/>
<rect x="79" y="65" width="2" height="6" fill="#0000b4"/>
<rect x="82" y="65" width="8" height="6" fill="#0000b4"/>
<rect x="91" y="65" width="2" height="6" fill="#0000b4"/>
<rect x="103" y="56" width="1" height="1" fill="#0000b4"/>
<rect x="102" y="57" width="3" height="1" fill="#0000b4"/>
<rect x="103" y="58" width="1" height="1" fill="#0000b4"/>
<rect x="101" y="59" width="5" height="5" fill="#0000b4"/>
<rect x="102" y="64" width="1" height="6" fill="#0000b4"/>
<rect x="104" y="64" width="1" height="6" fill="#0000b4"/>
<rect x="108" y="57" width="1" height="1" fill="#c800c8"/>
<rect x="107" y="58" width="3" height="1" fill="#c800c8"/>
<rect x="108" y="59" width="1" height="1" fill="#c800c8"/>
<rect x="106" y="60" width="5" height="5" fill="#c800c8"/>
<rect x="107" y="65" width="3" height="5" fill="#c800c8"/>
<rect x="112" y="63" width="2" height="2" fill="#0000b4"/>
<rect x="111" y="65" width="4" height="3" fill="#0000b4"/>
<rect x="112" y="68" width="2" height="2" fill="#0000b4"/>
<rect x="116" y="63" width="2" height="2" fill="#c800c8"/>
<rect x="115" y="65" width="4" height="3" fill="#c800c8"/>
<rect x="116" y="68" width="2" height="2" fill="#c800c8"/>
<circle cx="151.5" cy="60.5" r="5.2" fill="none" stroke="#a4a393" stroke-width="1.3"/>
<path d="M155 64.5L160.5 70" stroke="#a4a393" stroke-width="2.2"/>
<rect x="148" y="58" width="1" height="5" fill="#a4a393"/>
<rect x="147" y="59" width="1" height="1" fill="#a4a393"/>
<rect x="151" y="59" width="1" height="1" fill="#a4a393"/>
<rect x="151" y="61" width="1" height="1" fill="#a4a393"/>
<rect x="154" y="58" width="1" height="5" fill="#a4a393"/>
<rect x="153" y="59" width="1" height="1" fill="#a4a393"/>
<rect x="170.5" y="54.5" width="14" height="8" rx="1" fill="none" stroke="#a4a393" stroke-width="1.4"/>
<rect x="174" y="56" width="1" height="5" fill="#a4a393"/>
<rect x="175" y="56" width="2" height="1" fill="#a4a393"/>
<rect x="175" y="58" width="2" height="1" fill="#a4a393"/>
<rect x="179" y="56" width="1" height="5" fill="#a4a393"/>
<rect x="178" y="56" width="3" height="1" fill="#a4a393"/>
<rect x="178" y="60" width="3" height="1" fill="#a4a393"/>
<path d="M175.5 64.5h3v3h3v2h-3v3h-3v-3h-3v-2h3z" fill="none" stroke="#a4a393" stroke-width="1.2"/>
<rect x="194" y="55" width="4" height="1" fill="#000"/>
<rect x="194" y="58" width="4" height="1" fill="#000"/>
<rect x="193" y="56" width="1" height="2" fill="#000"/>
<rect x="198" y="56" width="1" height="2" fill="#000"/>
<rect x="194" y="56" width="4" height="2" fill="#fff"/>
<rect x="203" y="56" width="5" height="1" fill="#000"/>
<rect x="203" y="59" width="5" height="1" fill="#000"/>
<rect x="202" y="57" width="1" height="2" fill="#000"/>
<rect x="208" y="57" width="1" height="2" fill="#000"/>
<rect x="203" y="57" width="5" height="2" fill="#fff"/>
<rect x="200" y="62" width="6" height="1" fill="#000"/>
<rect x="200" y="65" width="6" height="1" fill="#000"/>
<rect x="199" y="63" width="1" height="2" fill="#000"/>
<rect x="206" y="63" width="1" height="2" fill="#000"/>
<rect x="200" y="63" width="6" height="2" fill="#fff"/>
<rect x="197" y="59" width="1" height="1" fill="#000"/>
<rect x="198" y="60" width="2" height="1" fill="#000"/>
<rect x="200" y="61" width="1" height="1" fill="#000"/>
<rect x="205" y="60" width="1" height="1" fill="#000"/>
<rect x="204" y="61" width="1" height="1" fill="#000"/>
<rect x="197" y="68" width="9" height="3" fill="#000"/>
<rect x="198" y="69" width="7" height="1" fill="#c00000"/>
<path d="M238.5 70L242 59.5" stroke="#000" stroke-width="3"/><path d="M238.8 69L242 59.8" stroke="#f0e000" stroke-width="1.2"/>
<rect x="243" y="59" width="4" height="11" fill="#000"/>
<rect x="244" y="60" width="2" height="9" fill="#1010e0"/>
<rect x="247" y="55" width="4" height="15" fill="#000"/>
<rect x="248" y="56" width="2" height="13" fill="#e00000"/>
<rect x="251" y="60" width="3" height="10" fill="#000"/>
<rect x="252" y="61" width="1" height="8" fill="#00e0e0"/>
<path d="M261 59L265 56L269 54L273 56L278 59Z" fill="#808080" stroke="#000" stroke-width="1"/>
<rect x="261" y="59" width="18" height="2" fill="#000"/>
<rect x="262" y="59" width="16" height="1" fill="#fff"/>
<rect x="263" y="61" width="14" height="7" fill="#000"/>
<rect x="264" y="61" width="2" height="7" fill="#fff"/>
<rect x="267" y="62" width="6" height="6" fill="#c0c0c0"/>
<rect x="268" y="64" width="4" height="4" fill="#808080"/>
<rect x="274" y="61" width="2" height="7" fill="#fff"/>
<rect x="262" y="68" width="16" height="1" fill="#404040"/>
<rect x="261" y="69" width="18" height="2" fill="#000"/>
<rect x="263" y="69" width="14" height="1" fill="#808080"/>
<path d="M309.5 55.5h6l3 3v5h-9z" fill="#fff" stroke="#000" stroke-width="1"/>
<rect x="311" y="57" width="2" height="1" fill="#000"/>
<rect x="311" y="59" width="2" height="1" fill="#000"/>
<rect x="311" y="61" width="4" height="1" fill="#000"/>
<rect x="316" y="61" width="1" height="1" fill="#000"/>
<rect x="306" y="63" width="16" height="8" fill="#000"/>
<rect x="307" y="64" width="14" height="3" fill="#e8e8e8"/>
<rect x="319" y="65" width="1" height="1" fill="#ff0000"/>
<rect x="307" y="68" width="14" height="2" fill="#c8c8c8"/>
<path d="M353 57L357 60L361 57M353 67L357 62" fill="none" stroke="#000" stroke-width="1.2"/>
<rect x="355" y="59" width="6" height="1" fill="#000"/>
<rect x="351" y="55" width="3" height="1" fill="#000"/>
<rect x="350" y="56" width="5" height="1" fill="#000"/>
<rect x="351" y="57" width="3" height="1" fill="#000"/>
<rect x="351" y="56" width="3" height="1" fill="#f0f000"/>
<rect x="362" y="55" width="3" height="1" fill="#000"/>
<rect x="361" y="56" width="5" height="1" fill="#000"/>
<rect x="362" y="57" width="3" height="1" fill="#000"/>
<rect x="362" y="56" width="3" height="1" fill="#f0f000"/>
<rect x="351" y="66" width="3" height="1" fill="#000"/>
<rect x="350" y="67" width="5" height="1" fill="#000"/>
<rect x="351" y="68" width="3" height="1" fill="#000"/>
<rect x="351" y="67" width="3" height="1" fill="#f0f000"/>
<rect x="357" y="60" width="1" height="1" fill="#000"/>
<rect x="357" y="61" width="1" height="1" fill="#000"/>
<rect x="358" y="61" width="1" height="1" fill="#000"/>
<rect x="357" y="62" width="1" height="1" fill="#000"/>
<rect x="358" y="62" width="1" height="1" fill="#fff"/>
<rect x="359" y="62" width="1" height="1" fill="#000"/>
<rect x="357" y="63" width="1" height="1" fill="#000"/>
<rect x="358" y="63" width="1" height="1" fill="#fff"/>
<rect x="359" y="63" width="1" height="1" fill="#fff"/>
<rect x="360" y="63" width="1" height="1" fill="#000"/>
<rect x="357" y="64" width="1" height="1" fill="#000"/>
<rect x="358" y="64" width="1" height="1" fill="#fff"/>
<rect x="359" y="64" width="1" height="1" fill="#fff"/>
<rect x="360" y="64" width="1" height="1" fill="#fff"/>
<rect x="361" y="64" width="1" height="1" fill="#000"/>
<rect x="357" y="65" width="1" height="1" fill="#000"/>
<rect x="358" y="65" width="1" height="1" fill="#fff"/>
<rect x="359" y="65" width="1" height="1" fill="#fff"/>
<rect x="360" y="65" width="1" height="1" fill="#fff"/>
<rect x="361" y="65" width="1" height="1" fill="#fff"/>
<rect x="362" y="65" width="1" height="1" fill="#000"/>
<rect x="357" y="66" width="1" height="1" fill="#000"/>
<rect x="358" y="66" width="1" height="1" fill="#fff"/>
<rect x="359" y="66" width="1" height="1" fill="#fff"/>
<rect x="360" y="66" width="1" height="1" fill="#fff"/>
<rect x="361" y="66" width="1" height="1" fill="#fff"/>
<rect x="362" y="66" width="1" height="1" fill="#fff"/>
<rect x="363" y="66" width="1" height="1" fill="#000"/>
<rect x="357" y="67" width="1" height="1" fill="#000"/>
<rect x="358" y="67" width="1" height="1" fill="#fff"/>
<rect x="359" y="67" width="1" height="1" fill="#fff"/>
<rect x="360" y="67" width="1" height="1" fill="#000"/>
<rect x="361" y="67" width="1" height="1" fill="#000"/>
<rect x="362" y="67" width="1" height="1" fill="#000"/>
<rect x="363" y="67" width="1" height="1" fill="#000"/>
<rect x="357" y="68" width="1" height="1" fill="#000"/>
<rect x="358" y="68" width="1" height="1" fill="#fff"/>
<rect x="359" y="68" width="1" height="1" fill="#000"/>
<rect x="360" y="68" width="1" height="1" fill="#fff"/>
<rect x="361" y="68" width="1" height="1" fill="#000"/>
<rect x="357" y="69" width="1" height="1" fill="#000"/>
<rect x="358" y="69" width="1" height="1" fill="#000"/>
<rect x="360" y="69" width="1" height="1" fill="#000"/>
<rect x="361" y="69" width="1" height="1" fill="#fff"/>
<rect x="362" y="69" width="1" height="1" fill="#000"/>
<rect x="357" y="70" width="1" height="1" fill="#000"/>
<rect x="361" y="70" width="1" height="1" fill="#000"/>
<rect x="362" y="70" width="1" height="1" fill="#fff"/>
<rect x="363" y="70" width="1" height="1" fill="#000"/>
<rect x="361" y="71" width="1" height="1" fill="#000"/>
<rect x="362" y="71" width="1" height="1" fill="#000"/>
<path d="M376 62.5L381 56.5L387 62.5" fill="none" stroke="#000" stroke-width="1.2"/>
<rect x="380" y="55" width="3" height="1" fill="#000"/>
<rect x="379" y="56" width="5" height="1" fill="#000"/>
<rect x="380" y="57" width="3" height="1" fill="#000"/>
<rect x="380" y="56" width="3" height="1" fill="#f0f000"/>
<rect x="375" y="62" width="3" height="1" fill="#000"/>
<rect x="374" y="63" width="5" height="1" fill="#000"/>
<rect x="375" y="64" width="3" height="1" fill="#000"/>
<rect x="375" y="63" width="3" height="1" fill="#f0f000"/>
<rect x="386" y="62" width="3" height="1" fill="#000"/>
<rect x="385" y="63" width="5" height="1" fill="#000"/>
<rect x="386" y="64" width="3" height="1" fill="#000"/>
<rect x="386" y="63" width="3" height="1" fill="#f0f000"/>
<rect x="380" y="60" width="1" height="1" fill="#000"/>
<rect x="380" y="61" width="1" height="1" fill="#000"/>
<rect x="381" y="61" width="1" height="1" fill="#000"/>
<rect x="380" y="62" width="1" height="1" fill="#000"/>
<rect x="381" y="62" width="1" height="1" fill="#fff"/>
<rect x="382" y="62" width="1" height="1" fill="#000"/>
<rect x="380" y="63" width="1" height="1" fill="#000"/>
<rect x="381" y="63" width="1" height="1" fill="#fff"/>
<rect x="382" y="63" width="1" height="1" fill="#fff"/>
<rect x="383" y="63" width="1" height="1" fill="#000"/>
<rect x="380" y="64" width="1" height="1" fill="#000"/>
<rect x="381" y="64" width="1" height="1" fill="#fff"/>
<rect x="382" y="64" width="1" height="1" fill="#fff"/>
<rect x="383" y="64" width="1" height="1" fill="#fff"/>
<rect x="384" y="64" width="1" height="1" fill="#000"/>
<rect x="380" y="65" width="1" height="1" fill="#000"/>
<rect x="381" y="65" width="1" height="1" fill="#fff"/>
<rect x="382" y="65" width="1" height="1" fill="#fff"/>
<rect x="383" y="65" width="1" height="1" fill="#fff"/>
<rect x="384" y="65" width="1" height="1" fill="#fff"/>
<rect x="385" y="65" width="1" height="1" fill="#000"/>
<rect x="380" y="66" width="1" height="1" fill="#000"/>
<rect x="381" y="66" width="1" height="1" fill="#fff"/>
<rect x="382" y="66" width="1" height="1" fill="#fff"/>
<rect x="383" y="66" width="1" height="1" fill="#fff"/>
<rect x="384" y="66" width="1" height="1" fill="#fff"/>
<rect x="385" y="66" width="1" height="1" fill="#fff"/>
<rect x="386" y="66" width="1" height="1" fill="#000"/>
<rect x="380" y="67" width="1" height="1" fill="#000"/>
<rect x="381" y="67" width="1" height="1" fill="#fff"/>
<rect x="382" y="67" width="1" height="1" fill="#fff"/>
<rect x="383" y="67" width="1" height="1" fill="#000"/>
<rect x="384" y="67" width="1" height="1" fill="#000"/>
<rect x="385" y="67" width="1" height="1" fill="#000"/>
<rect x="386" y="67" width="1" height="1" fill="#000"/>
<rect x="380" y="68" width="1" height="1" fill="#000"/>
<rect x="381" y="68" width="1" height="1" fill="#fff"/>
<rect x="382" y="68" width="1" height="1" fill="#000"/>
<rect x="383" y="68" width="1" height="1" fill="#fff"/>
<rect x="384" y="68" width="1" height="1" fill="#000"/>
<rect x="380" y="69" width="1" height="1" fill="#000"/>
<rect x="381" y="69" width="1" height="1" fill="#000"/>
<rect x="383" y="69" width="1" height="1" fill="#000"/>
<rect x="384" y="69" width="1" height="1" fill="#fff"/>
<rect x="385" y="69" width="1" height="1" fill="#000"/>
<rect x="380" y="70" width="1" height="1" fill="#000"/>
<rect x="384" y="70" width="1" height="1" fill="#000"/>
<rect x="385" y="70" width="1" height="1" fill="#fff"/>
<rect x="386" y="70" width="1" height="1" fill="#000"/>
<rect x="384" y="71" width="1" height="1" fill="#000"/>
<rect x="385" y="71" width="1" height="1" fill="#000"/>
<path d="M400 56.5L405 62M410 56.5L405 62" fill="none" stroke="#000" stroke-width="1.2"/>
<rect x="399" y="55" width="3" height="1" fill="#000"/>
<rect x="398" y="56" width="5" height="1" fill="#000"/>
<rect x="399" y="57" width="3" height="1" fill="#000"/>
<rect x="399" y="56" width="3" height="1" fill="#f0f000"/>
<rect x="409" y="55" width="3" height="1" fill="#000"/>
<rect x="408" y="56" width="5" height="1" fill="#000"/>
<rect x="409" y="57" width="3" height="1" fill="#000"/>
<rect x="409" y="56" width="3" height="1" fill="#f0f000"/>
<rect x="404" y="62" width="3" height="1" fill="#000"/>
<rect x="403" y="63" width="5" height="1" fill="#000"/>
<rect x="404" y="64" width="3" height="1" fill="#000"/>
<rect x="404" y="63" width="3" height="1" fill="#f0f000"/>
<rect x="406" y="60" width="1" height="1" fill="#000"/>
<rect x="406" y="61" width="1" height="1" fill="#000"/>
<rect x="407" y="61" width="1" height="1" fill="#000"/>
<rect x="406" y="62" width="1" height="1" fill="#000"/>
<rect x="407" y="62" width="1" height="1" fill="#fff"/>
<rect x="408" y="62" width="1" height="1" fill="#000"/>
<rect x="406" y="63" width="1" height="1" fill="#000"/>
<rect x="407" y="63" width="1" height="1" fill="#fff"/>
<rect x="408" y="63" width="1" height="1" fill="#fff"/>
<rect x="409" y="63" width="1" height="1" fill="#000"/>
<rect x="406" y="64" width="1" height="1" fill="#000"/>
<rect x="407" y="64" width="1" height="1" fill="#fff"/>
<rect x="408" y="64" width="1" height="1" fill="#fff"/>
<rect x="409" y="64" width="1" height="1" fill="#fff"/>
<rect x="410" y="64" width="1" height="1" fill="#000"/>
<rect x="406" y="65" width="1" height="1" fill="#000"/>
<rect x="407" y="65" width="1" height="1" fill="#fff"/>
<rect x="408" y="65" width="1" height="1" fill="#fff"/>
<rect x="409" y="65" width="1" height="1" fill="#fff"/>
<rect x="410" y="65" width="1" height="1" fill="#fff"/>
<rect x="411" y="65" width="1" height="1" fill="#000"/>
<rect x="406" y="66" width="1" height="1" fill="#000"/>
<rect x="407" y="66" width="1" height="1" fill="#fff"/>
<rect x="408" y="66" width="1" height="1" fill="#fff"/>
<rect x="409" y="66" width="1" height="1" fill="#fff"/>
<rect x="410" y="66" width="1" height="1" fill="#fff"/>
<rect x="411" y="66" width="1" height="1" fill="#fff"/>
<rect x="412" y="66" width="1" height="1" fill="#000"/>
<rect x="406" y="67" width="1" height="1" fill="#000"/>
<rect x="407" y="67" width="1" height="1" fill="#fff"/>
<rect x="408" y="67" width="1" height="1" fill="#fff"/>
<rect x="409" y="67" width="1" height="1" fill="#000"/>
<rect x="410" y="67" width="1" height="1" fill="#000"/>
<rect x="411" y="67" width="1" height="1" fill="#000"/>
<rect x="412" y="67" width="1" height="1" fill="#000"/>
<rect x="406" y="68" width="1" height="1" fill="#000"/>
<rect x="407" y="68" width="1" height="1" fill="#fff"/>
<rect x="408" y="68" width="1" height="1" fill="#000"/>
<rect x="409" y="68" width="1" height="1" fill="#fff"/>
<rect x="410" y="68" width="1" height="1" fill="#000"/>
<rect x="406" y="69" width="1" height="1" fill="#000"/>
<rect x="407" y="69" width="1" height="1" fill="#000"/>
<rect x="409" y="69" width="1" height="1" fill="#000"/>
<rect x="410" y="69" width="1" height="1" fill="#fff"/>
<rect x="411" y="69" width="1" height="1" fill="#000"/>
<rect x="406" y="70" width="1" height="1" fill="#000"/>
<rect x="410" y="70" width="1" height="1" fill="#000"/>
<rect x="411" y="70" width="1" height="1" fill="#fff"/>
<rect x="412" y="70" width="1" height="1" fill="#000"/>
<rect x="410" y="71" width="1" height="1" fill="#000"/>
<rect x="411" y="71" width="1" height="1" fill="#000"/>
<rect x="432" y="55" width="3" height="1" fill="#000"/>
<rect x="431" y="56" width="5" height="1" fill="#000"/>
<rect x="432" y="57" width="3" height="1" fill="#000"/>
<rect x="432" y="56" width="3" height="1" fill="#f0f000"/>
<rect x="429" y="59" width="3" height="1" fill="#000"/>
<rect x="428" y="60" width="5" height="1" fill="#000"/>
<rect x="429" y="61" width="3" height="1" fill="#000"/>
<rect x="429" y="60" width="3" height="1" fill="#f0f000"/>
<rect x="426" y="63" width="3" height="1" fill="#000"/>
<rect x="425" y="64" width="5" height="1" fill="#000"/>
<rect x="426" y="65" width="3" height="1" fill="#000"/>
<rect x="426" y="64" width="3" height="1" fill="#f0f000"/>
<rect x="423" y="67" width="3" height="1" fill="#000"/>
<rect x="422" y="68" width="5" height="1" fill="#000"/>
<rect x="423" y="69" width="3" height="1" fill="#000"/>
<rect x="423" y="68" width="3" height="1" fill="#f0f000"/>
<rect x="430" y="60" width="1" height="1" fill="#000"/>
<rect x="430" y="61" width="1" height="1" fill="#000"/>
<rect x="431" y="61" width="1" height="1" fill="#000"/>
<rect x="430" y="62" width="1" height="1" fill="#000"/>
<rect x="431" y="62" width="1" height="1" fill="#fff"/>
<rect x="432" y="62" width="1" height="1" fill="#000"/>
<rect x="430" y="63" width="1" height="1" fill="#000"/>
<rect x="431" y="63" width="1" height="1" fill="#fff"/>
<rect x="432" y="63" width="1" height="1" fill="#fff"/>
<rect x="433" y="63" width="1" height="1" fill="#000"/>
<rect x="430" y="64" width="1" height="1" fill="#000"/>
<rect x="431" y="64" width="1" height="1" fill="#fff"/>
<rect x="432" y="64" width="1" height="1" fill="#fff"/>
<rect x="433" y="64" width="1" height="1" fill="#fff"/>
<rect x="434" y="64" width="1" height="1" fill="#000"/>
<rect x="430" y="65" width="1" height="1" fill="#000"/>
<rect x="431" y="65" width="1" height="1" fill="#fff"/>
<rect x="432" y="65" width="1" height="1" fill="#fff"/>
<rect x="433" y="65" width="1" height="1" fill="#fff"/>
<rect x="434" y="65" width="1" height="1" fill="#fff"/>
<rect x="435" y="65" width="1" height="1" fill="#000"/>
<rect x="430" y="66" width="1" height="1" fill="#000"/>
<rect x="431" y="66" width="1" height="1" fill="#fff"/>
<rect x="432" y="66" width="1" height="1" fill="#fff"/>
<rect x="433" y="66" width="1" height="1" fill="#fff"/>
<rect x="434" y="66" width="1" height="1" fill="#fff"/>
<rect x="435" y="66" width="1" height="1" fill="#fff"/>
<rect x="436" y="66" width="1" height="1" fill="#000"/>
<rect x="430" y="67" width="1" height="1" fill="#000"/>
<rect x="431" y="67" width="1" height="1" fill="#fff"/>
<rect x="432" y="67" width="1" height="1" fill="#fff"/>
<rect x="433" y="67" width="1" height="1" fill="#000"/>
<rect x="434" y="67" width="1" height="1" fill="#000"/>
<rect x="435" y="67" width="1" height="1" fill="#000"/>
<rect x="436" y="67" width="1" height="1" fill="#000"/>
<rect x="430" y="68" width="1" height="1" fill="#000"/>
<rect x="431" y="68" width="1" height="1" fill="#fff"/>
<rect x="432" y="68" width="1" height="1" fill="#000"/>
<rect x="433" y="68" width="1" height="1" fill="#fff"/>
<rect x="434" y="68" width="1" height="1" fill="#000"/>
<rect x="430" y="69" width="1" height="1" fill="#000"/>
<rect x="431" y="69" width="1" height="1" fill="#000"/>
<rect x="433" y="69" width="1" height="1" fill="#000"/>
<rect x="434" y="69" width="1" height="1" fill="#fff"/>
<rect x="435" y="69" width="1" height="1" fill="#000"/>
<rect x="430" y="70" width="1" height="1" fill="#000"/>
<rect x="434" y="70" width="1" height="1" fill="#000"/>
<rect x="435" y="70" width="1" height="1" fill="#fff"/>
<rect x="436" y="70" width="1" height="1" fill="#000"/>
<rect x="434" y="71" width="1" height="1" fill="#000"/>
<rect x="435" y="71" width="1" height="1" fill="#000"/>
<rect x="472" y="61" width="14" height="9" fill="#000"/>
<rect x="473" y="62" width="12" height="7" fill="#f0f000"/>
<rect x="472" y="61" width="1" height="1" fill="#ecedde"/>
<rect x="485" y="61" width="1" height="1" fill="#ecedde"/>
<rect x="472" y="69" width="1" height="1" fill="#ecedde"/>
<rect x="485" y="69" width="1" height="1" fill="#ecedde"/>
<path d="M448 57L456 65" stroke="#000" stroke-width="3.5"/><path d="M448 57L456 65" stroke="#f00" stroke-width="1.6"/>
<path d="M460 69L450.5 64L455 59.5Z" fill="#f00" stroke="#000" stroke-width="1"/>
<path d="M471 57L477 63" stroke="#000" stroke-width="3.5"/><path d="M471 57L477 63" stroke="#f00" stroke-width="1.6"/>
<path d="M481 67L472.5 62L477 57.5Z" fill="#f00" stroke="#000" stroke-width="1"/>
<rect x="483" y="63" width="1" height="1" fill="#000"/>
<rect x="482" y="64" width="1" height="1" fill="#000"/>
<rect x="483" y="64" width="1" height="1" fill="#000"/>
<rect x="483" y="65" width="1" height="1" fill="#000"/>
<rect x="483" y="66" width="1" height="1" fill="#000"/>
<rect x="482" y="67" width="1" height="1" fill="#000"/>
<rect x="483" y="67" width="1" height="1" fill="#000"/>
<rect x="484" y="67" width="1" height="1" fill="#000"/>
<path d="M514.5 60.5q0-2 2.5-2t2.5 2q0 1.5-2 3v2" fill="none" stroke="#f00" stroke-width="2"/>
<rect x="515" y="66" width="2" height="2" fill="#f00"/>
<path d="M525.5 56.5h-2v5l-2 1.5 2 1.5v5h2" fill="none" stroke="#0000ff" stroke-width="1.2"/>
<rect x="527" y="56" width="3" height="2" fill="#000"/>
<rect x="527" y="59" width="3" height="2" fill="#000"/>
<rect x="527" y="62" width="3" height="2" fill="#000"/>
<rect x="527" y="65" width="3" height="2" fill="#000"/>
<rect x="527" y="68" width="3" height="2" fill="#000"/>
<path d="M559.5 55.5h10l2 2v13h-12z" fill="#fff" stroke="#000" stroke-width="1"/>
<rect x="560" y="57" width="8" height="1" fill="#ff0000"/>
<rect x="562" y="60" width="1" height="1" fill="#000"/>
<rect x="562" y="61" width="1" height="1" fill="#000"/>
<rect x="562" y="62" width="1" height="1" fill="#000"/>
<rect x="560" y="63" width="1" height="1" fill="#000"/>
<rect x="561" y="63" width="1" height="1" fill="#000"/>
<rect x="562" y="63" width="1" height="1" fill="#000"/>
<rect x="564" y="60" width="1" height="1" fill="#000"/>
<rect x="563" y="61" width="1" height="1" fill="#000"/>
<rect x="565" y="61" width="1" height="1" fill="#000"/>
<rect x="563" y="62" width="1" height="1" fill="#000"/>
<rect x="564" y="62" width="1" height="1" fill="#000"/>
<rect x="565" y="62" width="1" height="1" fill="#000"/>
<rect x="563" y="63" width="1" height="1" fill="#000"/>
<rect x="565" y="63" width="1" height="1" fill="#000"/>
<rect x="567" y="60" width="1" height="1" fill="#000"/>
<rect x="569" y="60" width="1" height="1" fill="#000"/>
<rect x="567" y="61" width="1" height="1" fill="#000"/>
<rect x="568" y="61" width="1" height="1" fill="#000"/>
<rect x="569" y="61" width="1" height="1" fill="#000"/>
<rect x="567" y="62" width="1" height="1" fill="#000"/>
<rect x="568" y="62" width="1" height="1" fill="#000"/>
<rect x="569" y="62" width="1" height="1" fill="#000"/>
<rect x="567" y="63" width="1" height="1" fill="#000"/>
<rect x="569" y="63" width="1" height="1" fill="#000"/>
<rect x="565" y="65" width="1" height="1" fill="#000"/>
<rect x="564" y="66" width="1" height="1" fill="#000"/>
<rect x="565" y="66" width="1" height="1" fill="#000"/>
<rect x="565" y="67" width="1" height="1" fill="#000"/>
<rect x="564" y="68" width="1" height="1" fill="#000"/>
<rect x="565" y="68" width="1" height="1" fill="#000"/>
<rect x="566" y="68" width="1" height="1" fill="#000"/>
<rect x="584.5" y="55.5" width="10" height="15" rx="1.5" fill="#c0c0c0" stroke="#000" stroke-width="1"/>
<rect x="586" y="58" width="7" height="3" fill="#000"/>
<rect x="590" y="59" width="1" height="1" fill="#00e0e0"/>
<rect x="591" y="59" width="1" height="1" fill="#00e0e0"/>
<rect x="586" y="62" width="1" height="1" fill="#000"/>
<rect x="588" y="62" width="1" height="1" fill="#000"/>
<rect x="590" y="62" width="1" height="1" fill="#000"/>
<rect x="592" y="62" width="1" height="1" fill="#000"/>
<rect x="586" y="64" width="1" height="1" fill="#000"/>
<rect x="588" y="64" width="1" height="1" fill="#000"/>
<rect x="590" y="64" width="1" height="1" fill="#000"/>
<rect x="592" y="64" width="1" height="1" fill="#000"/>
<rect x="586" y="66" width="1" height="1" fill="#000"/>
<rect x="588" y="66" width="1" height="1" fill="#000"/>
<rect x="590" y="66" width="1" height="1" fill="#000"/>
<rect x="592" y="66" width="1" height="1" fill="#000"/>
<rect x="586" y="68" width="1" height="1" fill="#000"/>
<rect x="588" y="68" width="1" height="1" fill="#000"/>
<rect x="590" y="68" width="1" height="1" fill="#000"/>
<rect x="592" y="68" width="1" height="1" fill="#000"/>
<rect x="590" y="68" width="3" height="1" fill="#ff0000"/>
<rect x="622" y="51" width="23" height="1" fill="#aca899"/>
<rect x="622" y="51" width="1" height="23" fill="#aca899"/>
<rect x="644" y="51" width="1" height="23" fill="#fff"/>
<rect x="622" y="73" width="23" height="1" fill="#fff"/>
<rect x="623" y="52" width="21" height="21" fill="#f6f4ee"/>
<rect x="626" y="55" width="17" height="1" fill="#000"/>
<rect x="626" y="59" width="17" height="1" fill="#000"/>
<rect x="626" y="63" width="17" height="1" fill="#000"/>
<rect x="626" y="67" width="17" height="1" fill="#000"/>
<rect x="626" y="71" width="17" height="1" fill="#000"/>
<path d="M670.5 55.5h9l3 3h-4v4h-8z" fill="#fff" stroke="#8a8a8a" stroke-width="1.2"/>
<path d="M673.5 62.5h9l3 3h-4v4h-8z" fill="#fff" stroke="#8a8a8a" stroke-width="1.2"/>
<rect x="672" y="59" width="2" height="1" fill="#8a8a8a"/>
<rect x="677" y="59" width="1" height="1" fill="#8a8a8a"/>
<rect x="672" y="57" width="1" height="2" fill="#8a8a8a"/>
<rect x="675" y="66" width="2" height="1" fill="#8a8a8a"/>
<rect x="680" y="66" width="1" height="1" fill="#8a8a8a"/>
<rect x="675" y="64" width="1" height="2" fill="#8a8a8a"/>
<rect x="694.5" y="56.5" width="10" height="6" fill="#fff" stroke="#8a8a8a" stroke-width="1.2"/>
<rect x="696.5" y="59.5" width="10" height="6" fill="#fff" stroke="#8a8a8a" stroke-width="1.2"/>
<rect x="698.5" y="62.5" width="10" height="7" fill="#fff" stroke="#8a8a8a" stroke-width="1.2"/>
<rect x="700" y="66" width="2" height="1" fill="#8a8a8a"/>
<rect x="705" y="65" width="1" height="1" fill="#8a8a8a"/>
<rect x="705" y="67" width="1" height="1" fill="#8a8a8a"/>
<rect x="700" y="64" width="1" height="1" fill="#8a8a8a"/>
<rect x="703" y="64" width="3" height="1" fill="#8a8a8a"/>
<rect x="729" y="55" width="8" height="7" fill="#000"/>
<rect x="730" y="56" width="6" height="5" fill="#fff"/>
<rect x="729" y="64" width="8" height="7" fill="#000"/>
<rect x="730" y="65" width="6" height="5" fill="#fff"/>
<rect x="731" y="66" width="1" height="1" fill="#000"/>
<rect x="734" y="66" width="1" height="1" fill="#000"/>
<rect x="732" y="67" width="2" height="1" fill="#000"/>
<rect x="731" y="68" width="1" height="1" fill="#000"/>
<rect x="734" y="68" width="1" height="1" fill="#000"/>
<circle cx="757" cy="63.5" r="7.6" fill="#0000e0" stroke="#000" stroke-width="1"/>
<path d="M754 61q0-3 3-3t3 3q0 2-3 3v2" fill="none" stroke="#fff" stroke-width="2"/>
<rect x="756" y="67" width="2" height="2" fill="#fff"/>
<rect x="774" y="56" width="14" height="14" fill="#e00000"/>
<rect x="774" y="56" width="1" height="1" fill="#909090"/>
<rect x="787" y="56" width="1" height="1" fill="#909090"/>
<rect x="774" y="69" width="1" height="1" fill="#909090"/>
<rect x="787" y="69" width="1" height="1" fill="#909090"/>
<path d="M778 60L784 66M784 60L778 66" stroke="#fff" stroke-width="2"/>
<rect x="791" y="602" width="1" height="1" fill="#ffffff"/><rect x="792" y="601" width="1" height="1" fill="#ffffff"/><rect x="793" y="600" width="1" height="1" fill="#ffffff"/><rect x="794" y="599" width="1" height="1" fill="#ffffff"/><rect x="795" y="598" width="1" height="1" fill="#ffffff"/><rect x="796" y="597" width="1" height="1" fill="#ffffff"/><rect x="797" y="596" width="1" height="1" fill="#ffffff"/><rect x="798" y="595" width="1" height="1" fill="#ffffff"/><rect x="799" y="594" width="1" height="1" fill="#ffffff"/><rect x="800" y="593" width="1" height="1" fill="#ffffff"/><rect x="801" y="592" width="1" height="1" fill="#ffffff"/><rect x="802" y="591" width="1" height="1" fill="#ffffff"/><rect x="792" y="602" width="1" height="1" fill="#aca899"/><rect x="793" y="601" width="1" height="1" fill="#aca899"/><rect x="794" y="600" width="1" height="1" fill="#aca899"/><rect x="795" y="599" width="1" height="1" fill="#aca899"/><rect x="796" y="598" width="1" height="1" fill="#aca899"/><rect x="797" y="597" width="1" height="1" fill="#aca899"/><rect x="798" y="596" width="1" height="1" fill="#aca899"/><rect x="799" y="595" width="1" height="1" fill="#aca899"/><rect x="800" y="594" width="1" height="1" fill="#aca899"/><rect x="801" y="593" width="1" height="1" fill="#aca899"/><rect x="802" y="592" width="1" height="1" fill="#aca899"/><rect x="793" y="602" width="1" height="1" fill="#aca899"/><rect x="794" y="601" width="1" height="1" fill="#aca899"/><rect x="795" y="600" width="1" height="1" fill="#aca899"/><rect x="796" y="599" width="1" height="1" fill="#aca899"/><rect x="797" y="598" width="1" height="1" fill="#aca899"/><rect x="798" y="597" width="1" height="1" fill="#aca899"/><rect x="799" y="596" width="1" height="1" fill="#aca899"/><rect x="800" y="595" width="1" height="1" fill="#aca899"/><rect x="801" y="594" width="1" height="1" fill="#aca899"/><rect x="802" y="593" width="1" height="1" fill="#aca899"/><rect x="795" y="602" width="1" height="1" fill="#ffffff"/><rect x="796" y="601" width="1" height="1" fill="#ffffff"/><rect x="797" y="600" width="1" height="1" fill="#ffffff"/><rect x="798" y="599" width="1" height="1" fill="#ffffff"/><rect x="799" y="598" width="1" height="1" fill="#ffffff"/><rect x="800" y="597" width="1" height="1" fill="#ffffff"/><rect x="801" y="596" width="1" height="1" fill="#ffffff"/><rect x="802" y="595" width="1" height="1" fill="#ffffff"/><rect x="796" y="602" width="1" height="1" fill="#aca899"/><rect x="797" y="601" width="1" height="1" fill="#aca899"/><rect x="798" y="600" width="1" height="1" fill="#aca899"/><rect x="799" y="599" width="1" height="1" fill="#aca899"/><rect x="800" y="598" width="1" height="1" fill="#aca899"/><rect x="801" y="597" width="1" height="1" fill="#aca899"/><rect x="802" y="596" width="1" height="1" fill="#aca899"/><rect x="797" y="602" width="1" height="1" fill="#aca899"/><rect x="798" y="601" width="1" height="1" fill="#aca899"/><rect x="799" y="600" width="1" height="1" fill="#aca899"/><rect x="800" y="599" width="1" height="1" fill="#aca899"/><rect x="801" y="598" width="1" height="1" fill="#aca899"/><rect x="802" y="597" width="1" height="1" fill="#aca899"/><rect x="799" y="602" width="1" height="1" fill="#ffffff"/><rect x="800" y="601" width="1" height="1" fill="#ffffff"/><rect x="801" y="600" width="1" height="1" fill="#ffffff"/><rect x="802" y="599" width="1" height="1" fill="#ffffff"/><rect x="800" y="602" width="1" height="1" fill="#aca899"/><rect x="801" y="601" width="1" height="1" fill="#aca899"/><rect x="802" y="600" width="1" height="1" fill="#aca899"/><rect x="801" y="602" width="1" height="1" fill="#aca899"/><rect x="802" y="601" width="1" height="1" fill="#aca899"/>
</svg>
<div id="popup" class="gs">
<div id="phead"><div id="phin"></div><div class="pt" style="left:1px;top:0px;color:#fff">Family [F118]</div></div>
<div class="pt" style="top:14px">[P324] William Drummond GORDON c. 24 Mar 1838, Saline, Fife</div>
<div class="pt" style="top:28px">m. 15 Jun 1860, Westfield, Clackmannan</div>
<div class="pt" style="top:42px">[P325] Jane HUNTER b. 22 Sep 1838, Westfield, Clackmannan</div>
<div class="dash" style="top:64px"></div>
<div class="pt" style="top:70px">[P362] Thomas Drummond GORDON b. 7 May 1861, Muirside, Saline, Fife</div>
<div class="pt" style="top:84px">[P338] Robert Hunter GORDON b. 27 Jul 1863, Westfield, Clackmannan</div>
<div class="pt" style="top:98px">[P345] Helen Sharp GORDON b. 19 Jul 1865, Hillend, Clackmannan</div>
<div class="pt" style="top:112px">[P340] Margaret Hunter Drummond GORDON b. 6 Nov 1867, Clackmannan</div>
<div class="pt" style="top:126px">[P360] William Drummond GORDON b. 26 Jan 1870, Clackmannan</div>
<div class="pt" style="top:140px">[P337] James GORDON b. 16 Jun 1872, Clackmannan</div>
<div class="pt" style="top:154px">[P282] Mary Jane Hunter GORDON b. 7 Jul 1876, Clackmannan</div>
<div class="pt" style="top:168px">[P326] Catherine Hunter GORDON b. 2 Jun 1879</div>
<div class="pt" style="top:182px">[P335] Ann Hunter GORDON b. 14 Jun 1882, Clackmannan</div>
</div>
</body></html>
